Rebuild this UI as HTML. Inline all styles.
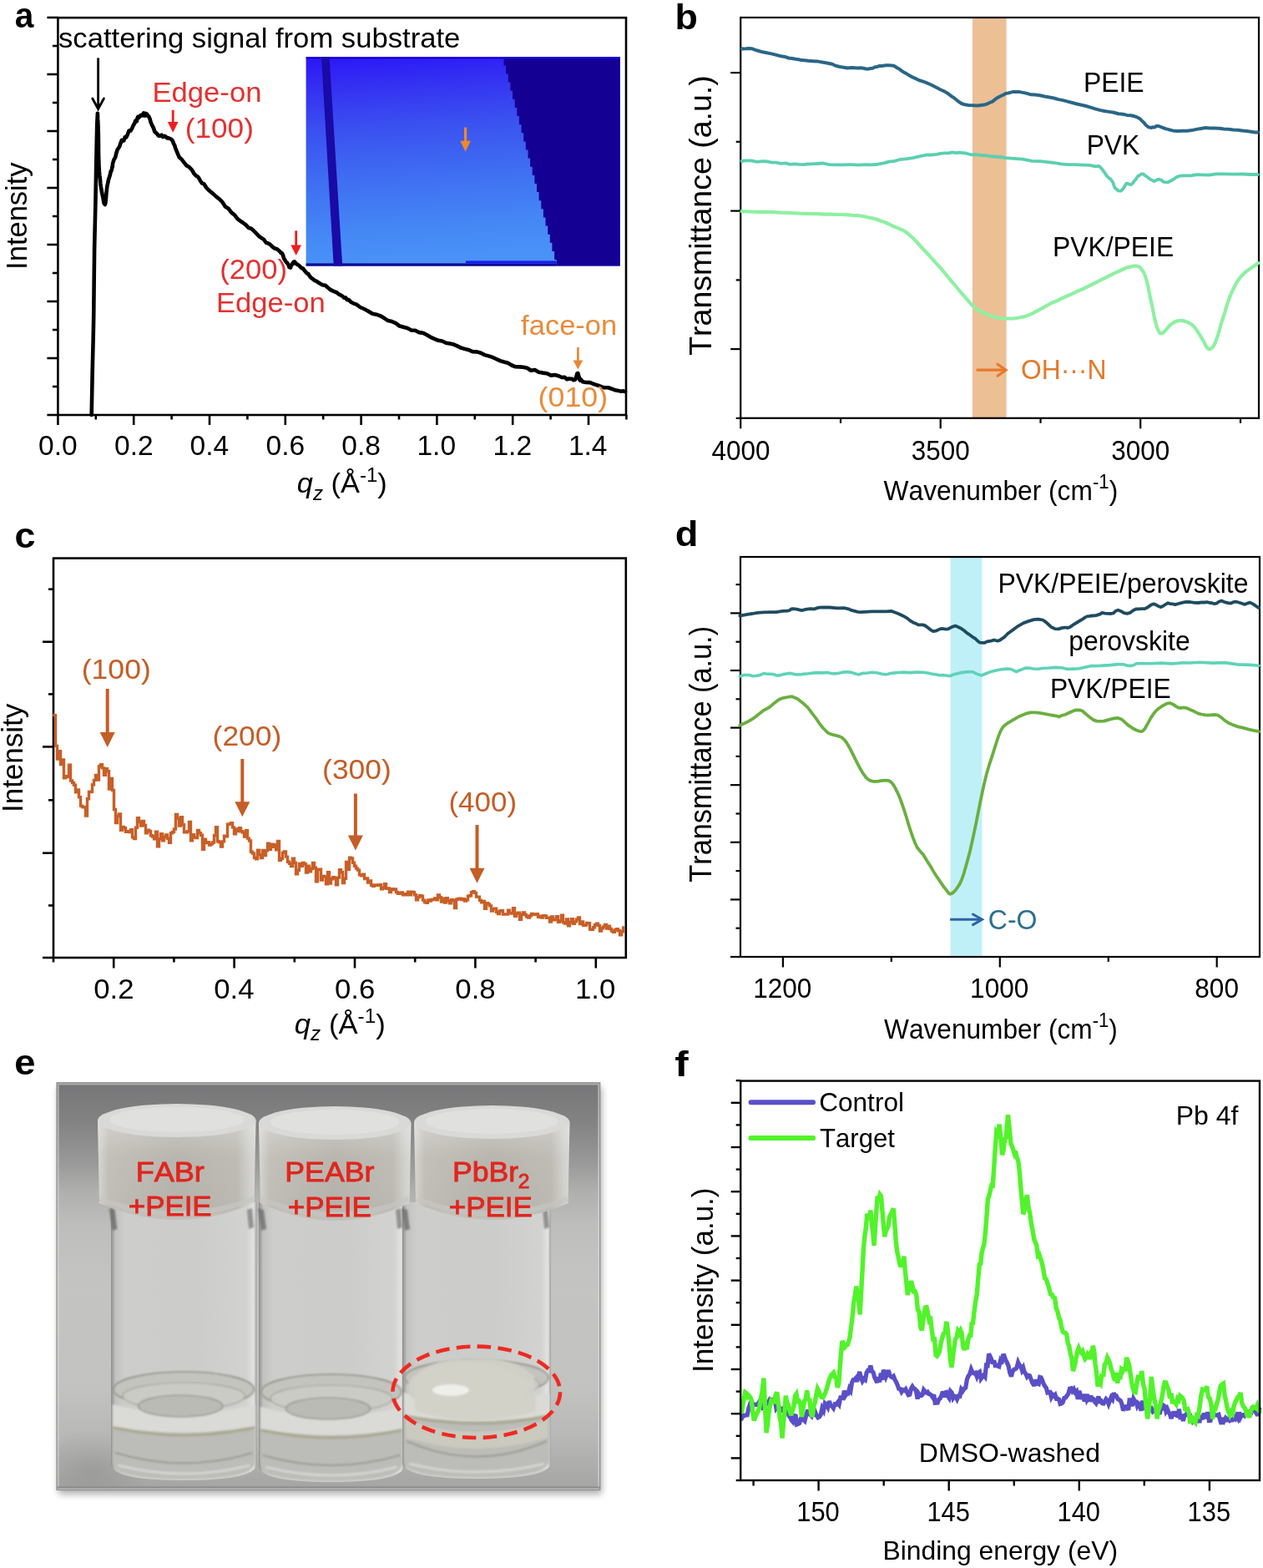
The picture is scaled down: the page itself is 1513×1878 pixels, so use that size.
<!DOCTYPE html>
<html><head><meta charset="utf-8"><style>
html,body{margin:0;padding:0;background:#fff;overflow:hidden;}
svg{display:block;font-family:"Liberation Sans", Arial, sans-serif;}
text{font-kerning:none;white-space:pre;}
</style></head><body>
<svg width="1513" height="1878" viewBox="0 0 1513 1878">
<rect width="1513" height="1878" fill="#fff"/>
<defs>
<linearGradient id="insg" x1="0" y1="0" x2="0.1" y2="1">
<stop offset="0" stop-color="#2a16f8"/><stop offset="0.15" stop-color="#3430f2"/><stop offset="0.35" stop-color="#3a50f0"/>
<stop offset="0.6" stop-color="#3f6ef2"/><stop offset="0.85" stop-color="#4588f5"/><stop offset="1" stop-color="#4a92f8"/>
</linearGradient>
</defs>
<rect x="366.6" y="68.3" width="376.2" height="250.3" fill="url(#insg)"/>
<path d="M742.8,68.3 L603.5,68.3 L603.5,78.4 L606.1,78.4 L606.1,88.5 L608.8,88.5 L608.8,98.6 L611.4,98.6 L611.4,108.8 L614,108.8 L614,118.9 L616.7,118.9 L616.7,129 L619.3,129 L619.3,139.1 L621.9,139.1 L621.9,149.2 L624.6,149.2 L624.6,159.3 L627.2,159.3 L627.2,169.4 L629.8,169.4 L629.8,179.5 L632.5,179.5 L632.5,189.6 L635.1,189.6 L635.1,199.8 L637.7,199.8 L637.7,209.9 L640.4,209.9 L640.4,220 L643,220 L643,230.1 L645.6,230.1 L645.6,240.2 L648.3,240.2 L648.3,250.3 L650.9,250.3 L650.9,260.4 L653.5,260.4 L653.5,270.6 L656.2,270.6 L656.2,280.7 L658.8,280.7 L658.8,290.8 L661.4,290.8 L661.4,300.9 L664.1,300.9 L664.1,311 L666.7,311 L666.7,318.6 L742.8,318.6 Z" fill="#150094"/>
<rect x="366.6" y="315.4" width="300.1" height="3.2" fill="#12088e"/>
<rect x="558" y="312.4" width="108.7" height="3" fill="#1a1af5"/>
<rect x="366.6" y="68.3" width="376.2" height="2.2" fill="#1400d8"/>
<path d="M385,68.3 L394.5,68.3 L410.2,318.6 L399.7,318.6 Z" fill="#1a0aa6"/>
<line x1="557.6" y1="152.6" x2="557.6" y2="169.7" stroke="#f08828" stroke-width="3.2" stroke-linecap="butt"/>
<path d="M551.3,168.7 L563.9,168.7 L557.6,181.7 Z" fill="#f08828"/>
<rect x="69.4" y="21.2" width="680.6" height="475.8" fill="none" stroke="#000" stroke-width="2.6"/>
<line x1="56.4" y1="497" x2="69.4" y2="497" stroke="#000" stroke-width="2.6" stroke-linecap="butt"/>
<line x1="56.4" y1="429" x2="69.4" y2="429" stroke="#000" stroke-width="2.6" stroke-linecap="butt"/>
<line x1="56.4" y1="361" x2="69.4" y2="361" stroke="#000" stroke-width="2.6" stroke-linecap="butt"/>
<line x1="56.4" y1="293" x2="69.4" y2="293" stroke="#000" stroke-width="2.6" stroke-linecap="butt"/>
<line x1="56.4" y1="225" x2="69.4" y2="225" stroke="#000" stroke-width="2.6" stroke-linecap="butt"/>
<line x1="56.4" y1="157" x2="69.4" y2="157" stroke="#000" stroke-width="2.6" stroke-linecap="butt"/>
<line x1="56.4" y1="89" x2="69.4" y2="89" stroke="#000" stroke-width="2.6" stroke-linecap="butt"/>
<line x1="56.4" y1="21" x2="69.4" y2="21" stroke="#000" stroke-width="2.6" stroke-linecap="butt"/>
<line x1="62.9" y1="463" x2="69.4" y2="463" stroke="#000" stroke-width="2.6" stroke-linecap="butt"/>
<line x1="62.9" y1="395" x2="69.4" y2="395" stroke="#000" stroke-width="2.6" stroke-linecap="butt"/>
<line x1="62.9" y1="327" x2="69.4" y2="327" stroke="#000" stroke-width="2.6" stroke-linecap="butt"/>
<line x1="62.9" y1="259" x2="69.4" y2="259" stroke="#000" stroke-width="2.6" stroke-linecap="butt"/>
<line x1="62.9" y1="191" x2="69.4" y2="191" stroke="#000" stroke-width="2.6" stroke-linecap="butt"/>
<line x1="62.9" y1="123" x2="69.4" y2="123" stroke="#000" stroke-width="2.6" stroke-linecap="butt"/>
<line x1="62.9" y1="55" x2="69.4" y2="55" stroke="#000" stroke-width="2.6" stroke-linecap="butt"/>
<line x1="69.4" y1="497" x2="69.4" y2="509" stroke="#000" stroke-width="2.6" stroke-linecap="butt"/>
<line x1="160.2" y1="497" x2="160.2" y2="509" stroke="#000" stroke-width="2.6" stroke-linecap="butt"/>
<line x1="251" y1="497" x2="251" y2="509" stroke="#000" stroke-width="2.6" stroke-linecap="butt"/>
<line x1="341.8" y1="497" x2="341.8" y2="509" stroke="#000" stroke-width="2.6" stroke-linecap="butt"/>
<line x1="432.6" y1="497" x2="432.6" y2="509" stroke="#000" stroke-width="2.6" stroke-linecap="butt"/>
<line x1="523.4" y1="497" x2="523.4" y2="509" stroke="#000" stroke-width="2.6" stroke-linecap="butt"/>
<line x1="614.2" y1="497" x2="614.2" y2="509" stroke="#000" stroke-width="2.6" stroke-linecap="butt"/>
<line x1="705" y1="497" x2="705" y2="509" stroke="#000" stroke-width="2.6" stroke-linecap="butt"/>
<line x1="114.8" y1="497" x2="114.8" y2="502.5" stroke="#000" stroke-width="2.6" stroke-linecap="butt"/>
<line x1="205.6" y1="497" x2="205.6" y2="502.5" stroke="#000" stroke-width="2.6" stroke-linecap="butt"/>
<line x1="296.4" y1="497" x2="296.4" y2="502.5" stroke="#000" stroke-width="2.6" stroke-linecap="butt"/>
<line x1="387.2" y1="497" x2="387.2" y2="502.5" stroke="#000" stroke-width="2.6" stroke-linecap="butt"/>
<line x1="478" y1="497" x2="478" y2="502.5" stroke="#000" stroke-width="2.6" stroke-linecap="butt"/>
<line x1="568.8" y1="497" x2="568.8" y2="502.5" stroke="#000" stroke-width="2.6" stroke-linecap="butt"/>
<line x1="659.6" y1="497" x2="659.6" y2="502.5" stroke="#000" stroke-width="2.6" stroke-linecap="butt"/>
<line x1="750.4" y1="497" x2="750.4" y2="502.5" stroke="#000" stroke-width="2.6" stroke-linecap="butt"/>
<text transform="translate(46.06,545.00) scale(0.9874,1)" font-size="34" fill="#000" font-weight="normal" font-style="normal">0.0</text>
<text transform="translate(137.05,545.00) scale(0.9874,1)" font-size="34" fill="#000" font-weight="normal" font-style="normal">0.2</text>
<text transform="translate(227.50,545.00) scale(0.9874,1)" font-size="34" fill="#000" font-weight="normal" font-style="normal">0.4</text>
<text transform="translate(318.55,545.00) scale(0.9874,1)" font-size="34" fill="#000" font-weight="normal" font-style="normal">0.6</text>
<text transform="translate(409.34,545.00) scale(0.9874,1)" font-size="34" fill="#000" font-weight="normal" font-style="normal">0.8</text>
<text transform="translate(499.44,545.00) scale(0.9874,1)" font-size="34" fill="#000" font-weight="normal" font-style="normal">1.0</text>
<text transform="translate(590.43,545.00) scale(0.9874,1)" font-size="34" fill="#000" font-weight="normal" font-style="normal">1.2</text>
<text transform="translate(680.88,545.00) scale(0.9874,1)" font-size="34" fill="#000" font-weight="normal" font-style="normal">1.4</text>
<text transform="translate(355.84,590.40) scale(1.0424,1)" font-size="33" fill="#000"><tspan font-size="33.00" font-weight="normal" font-style="italic" dy="0.00">q</tspan><tspan font-size="23.10" font-weight="normal" font-style="italic" dy="8.25">z</tspan><tspan font-size="33.00" font-weight="normal" font-style="normal" dy="-8.25"> (Å</tspan><tspan font-size="23.10" font-weight="normal" font-style="normal" dy="-13.20">-1</tspan><tspan font-size="33.00" font-weight="normal" font-style="normal" dy="13.20">)</tspan></text>
<text transform="translate(32.40,322.88) rotate(-90) scale(0.9998,1)" font-size="34.5" fill="#000" font-weight="normal">Intensity</text>
<text transform="translate(17.71,33.30) scale(0.9465,1)" font-size="43" fill="#000" font-weight="bold" font-style="normal" >a</text>
<text transform="translate(70.04,56.70) scale(1.0192,1)" font-size="34" fill="#000" font-weight="normal" font-style="normal" >scattering signal from substrate</text>
<line x1="117.6" y1="69.4" x2="117.6" y2="130" stroke="#000" stroke-width="2.8" stroke-linecap="butt"/>
<path d="M110.8,118 L117.6,130.5 L124.4,118" fill="none" stroke="#000" stroke-width="2.8" stroke-linejoin="miter" stroke-linecap="round" />
<path d="M109.7,497 L110.6,450 L111.7,404 L112.2,380 L113.1,298.3 L114.5,238.8 L115.1,203.1 L116.2,150 L116.9,135.7 L117,138.3 L117.1,142.4 L117.3,145.3 L117.5,149.9 L117.7,155 L117.8,159.3 L117.9,165.8 L118,172.6 L118,180 L118.1,185.5 L118.3,192.6 L118.5,198.2 L118.9,205.2 L119.3,210 L119.8,213.3 L120.3,219.8 L120.9,223.9 L121.5,227.2 L122.2,231.3 L122.9,234.6 L123.7,238.4 L124.4,242.9 L125.2,244.1 L125.8,245 L126.3,243.7 L126.7,240 L127.1,236.6 L127.4,231.7 L127.8,227.8 L128.4,222.9 L129.1,219.8 L130,215.2 L130.9,212.5 L131.8,209.8 L132.7,205.3 L133.4,204.7 L134,202.5 L134.4,199.7 L134.7,200 L135.1,195.4 L135.6,194 L136.3,191.8 L137.2,190 L138.3,188.1 L139.5,182.8 L140.7,179.2 L142,177.3 L143.3,175.1 L144.5,171.3 L145.8,168 L147.1,169 L148.4,168.2 L149.8,164.1 L151.2,164.5 L152.8,161.2 L154.5,156.5 L156.3,156.8 L158.1,153.9 L159.7,150.1 L161.1,148 L162.2,144.6 L163.1,144.3 L163.8,145.4 L164.5,141.7 L165.2,139.8 L166,140.9 L166.9,140.2 L167.9,138.6 L168.9,137.8 L170,138.5 L171,137.9 L172,135.4 L173,138.6 L173.9,135.8 L174.8,138.4 L175.8,136.3 L176.8,138 L178,139.1 L179.3,141.7 L180.7,146.7 L182.2,150.2 L183.8,153 L185.3,157.8 L186.9,158.9 L188.5,160.8 L190.1,162.7 L191.8,162.7 L193.5,161.7 L195.1,164 L196.8,162.9 L198.5,163.7 L200.2,165.5 L201.9,165.2 L203.5,166 L205.2,166.8 L206.7,168.5 L208,171.8 L209.1,173.8 L210.2,177.6 L211.4,180.4 L212.8,183.9 L214.7,188.2 L217.2,190.4 L220.1,194.1 L223.4,198.2 L226.6,200.1 L229.8,203.3 L232.5,208 L234.7,210.4 L236.5,211.3 L238.2,213.2 L239.9,216.5 L241.9,219.3 L244.4,220.3 L247.5,225.2 L250.9,228.5 L254.7,231.6 L258.6,235.1 L262.5,238.2 L266.2,241.8 L269.9,247.5 L273.6,249.7 L277.3,254.6 L280.9,257.3 L284.5,262.1 L288,264.8 L291.4,267 L294.6,269.4 L297.9,273 L301,273.8 L304.1,276.5 L307.1,279.6 L310.1,282.8 L313.1,284.9 L316,286.8 L318.8,290.8 L321.5,291.5 L324,293.2 L326.4,295.6 L328.8,297.4 L331.1,297.9 L333.2,299.4 L335.1,301.1 L336.7,303 L338,303.5 L339,305.7 L339.8,308.5 L340.5,310.3 L341.2,311.2 L342,312.7 L342.9,314 L343.8,314.6 L344.7,315.9 L345.6,317.2 L346.5,320.1 L347.3,320.1 L348.1,320.5 L348.7,317.5 L349.4,317.7 L350.1,316 L350.7,315.5 L351.5,314 L352.3,315.3 L353,313.4 L353.8,314.7 L354.7,315.6 L355.7,316.6 L356.8,317 L358.1,318 L359.6,319.4 L361.2,321.1 L362.9,321.4 L364.6,323.8 L366.3,325.9 L367.9,327.5 L369.4,328.2 L371,330.8 L372.7,332.8 L374.6,334 L376.9,335.9 L379.7,337.1 L382.8,339.3 L386.2,341.2 L389.7,341.8 L393,344.7 L396,347.1 L398.6,348.4 L401.1,349.5 L403.4,350.2 L405.6,352.3 L407.8,353.4 L410,354.5 L412.1,356.7 L414,356.4 L415.8,359.2 L417.8,359 L420.3,361.8 L423.3,363.3 L427.1,364.7 L431.5,368 L436.2,370 L441.2,372.7 L446.2,375.8 L451,376.7 L455.6,378.3 L460.3,381.1 L464.9,384.1 L469.5,385.1 L474.2,387.1 L478.8,390.6 L483.4,391.8 L488.1,393 L492.7,395.5 L497.3,395.8 L502,398.1 L506.6,398.7 L511.2,401 L515.8,403.8 L520.5,405.9 L525.1,407.8 L529.7,408.5 L534.3,410.7 L538.9,411.6 L543.6,412.6 L548.2,414.7 L552.8,416.8 L557.5,418.1 L562.1,419.3 L566.7,421.3 L571.4,421.4 L576,422.8 L580.6,425.1 L585.3,426.4 L589.9,427.9 L594.5,430 L599.1,432.1 L603.7,433.5 L608.4,434.8 L613,437.5 L617.6,439.3 L622.2,439.4 L626.9,439.8 L631.5,440.8 L636.1,443.8 L640.8,443.1 L645.4,445.7 L650.2,446.6 L655.2,447.2 L660.1,449.6 L664.9,449 L669.3,450.4 L673.1,452 L676.3,451.8 L679.2,454.3 L681.6,453.5 L683.7,453.8 L685.5,453.8 L687,455.2 L688.1,454.6 L688.8,454.7 L689.2,454.2 L689.5,454 L689.7,453.7 L690,452.4 L690.4,450.6 L690.7,450.2 L691.1,448.6 L691.4,447.3 L691.7,447.7 L692,448 L692.3,447 L692.6,447.8 L692.9,448.9 L693.2,450.6 L693.5,451.2 L694,452.3 L694.3,453.2 L694.2,453.1 L694.3,454.6 L694.7,455.5 L695.9,454.4 L698.1,457.3 L701.8,458 L706.7,458.1 L712.4,460.4 L718.3,462.3 L723.9,464.3 L728.7,464.3 L732.9,465.7 L737,467.3 L740.8,467.9 L744.1,468.8 L746.9,468.3 L749,469.1" fill="none" stroke="#000" stroke-width="4.6" stroke-linejoin="round" stroke-linecap="round" />
<text transform="translate(182.46,122.30) scale(1.0190,1)" font-size="34" fill="#e3312f" font-weight="normal" font-style="normal" >Edge-on</text>
<text transform="translate(221.82,164.60) scale(1.0339,1)" font-size="34" fill="#e3312f" font-weight="normal" font-style="normal" >(100)</text>
<text transform="translate(263.15,334.00) scale(1.0206,1)" font-size="34" fill="#e3312f" font-weight="normal" font-style="normal" >(200)</text>
<text transform="translate(258.96,374.20) scale(1.0174,1)" font-size="34" fill="#e3312f" font-weight="normal" font-style="normal" >Edge-on</text>
<line x1="207.2" y1="131.8" x2="207.2" y2="147.1" stroke="#f21c1c" stroke-width="2.8" stroke-linecap="butt"/>
<path d="M200.9,146.1 L213.5,146.1 L207.2,158.8 Z" fill="#f21c1c"/>
<line x1="354.7" y1="276.3" x2="354.7" y2="294.5" stroke="#f21c1c" stroke-width="2.8" stroke-linecap="butt"/>
<path d="M348.4,293.5 L361,293.5 L354.7,306 Z" fill="#f21c1c"/>
<text transform="translate(624.11,400.80) scale(1.0152,1)" font-size="34" fill="#ea8a3a" font-weight="normal" font-style="normal" >face-on</text>
<text transform="translate(644.58,486.80) scale(1.0525,1)" font-size="34" fill="#ea8a3a" font-weight="normal" font-style="normal" >(010)</text>
<line x1="692.4" y1="416" x2="692.4" y2="432.4" stroke="#eb8530" stroke-width="2.6" stroke-linecap="butt"/>
<path d="M686.6,431.4 L698.2,431.4 L692.4,442.4 Z" fill="#eb8530"/>
<rect x="1165" y="21.0" width="40.6" height="479.8" fill="#ecbf95"/>
<rect x="887.2" y="21" width="620.8" height="479.8" fill="none" stroke="#000" stroke-width="2.2"/>
<line x1="875.2" y1="418.1" x2="887.2" y2="418.1" stroke="#000" stroke-width="2.2" stroke-linecap="butt"/>
<line x1="875.2" y1="252.6" x2="887.2" y2="252.6" stroke="#000" stroke-width="2.2" stroke-linecap="butt"/>
<line x1="875.2" y1="87.1" x2="887.2" y2="87.1" stroke="#000" stroke-width="2.2" stroke-linecap="butt"/>
<line x1="881.7" y1="500.9" x2="887.2" y2="500.9" stroke="#000" stroke-width="2.2" stroke-linecap="butt"/>
<line x1="881.7" y1="335.4" x2="887.2" y2="335.4" stroke="#000" stroke-width="2.2" stroke-linecap="butt"/>
<line x1="881.7" y1="169.8" x2="887.2" y2="169.8" stroke="#000" stroke-width="2.2" stroke-linecap="butt"/>
<line x1="887.2" y1="500.8" x2="887.2" y2="513.3" stroke="#000" stroke-width="2.2" stroke-linecap="butt"/>
<line x1="1126.7" y1="500.8" x2="1126.7" y2="513.3" stroke="#000" stroke-width="2.2" stroke-linecap="butt"/>
<line x1="1366.2" y1="500.8" x2="1366.2" y2="513.3" stroke="#000" stroke-width="2.2" stroke-linecap="butt"/>
<line x1="1007" y1="500.8" x2="1007" y2="506.8" stroke="#000" stroke-width="2.2" stroke-linecap="butt"/>
<line x1="1246.5" y1="500.8" x2="1246.5" y2="506.8" stroke="#000" stroke-width="2.2" stroke-linecap="butt"/>
<line x1="1486" y1="500.8" x2="1486" y2="506.8" stroke="#000" stroke-width="2.2" stroke-linecap="butt"/>
<text transform="translate(852.48,550.70) scale(0.9248,1)" font-size="34" fill="#000" font-weight="normal" font-style="normal">4000</text>
<text transform="translate(1091.74,550.70) scale(0.9248,1)" font-size="34" fill="#000" font-weight="normal" font-style="normal">3500</text>
<text transform="translate(1331.24,550.70) scale(0.9248,1)" font-size="34" fill="#000" font-weight="normal" font-style="normal">3000</text>
<text transform="translate(1058.56,599.00) scale(0.9336,1)" font-size="34" fill="#000"><tspan font-size="34.00" font-weight="normal" font-style="normal" dy="0.00">Wavenumber (cm</tspan><tspan font-size="23.80" font-weight="normal" font-style="normal" dy="-13.60">-1</tspan><tspan font-size="34.00" font-weight="normal" font-style="normal" dy="13.60">)</tspan></text>
<text transform="translate(852.40,425.84) rotate(-90) scale(1.0004,1)" font-size="37.5" fill="#000" font-weight="normal">Transmittance (a.u.)</text>
<text transform="translate(808.54,34.50) scale(1.0430,1)" font-size="43" fill="#000" font-weight="bold" font-style="normal" >b</text>
<path d="M888.5,58.2 L890.6,58.4 L893.7,58.3 L897.1,58.1 L900.5,58.2 L903.5,59.3 L906.4,60.3 L909.7,61.2 L913.6,62.3 L918.5,63.3 L924.2,64.4 L930,65.9 L935.4,67.2 L940.1,67.9 L944.6,69.5 L948.8,70 L952.9,70.8 L956.7,71.2 L960.1,72.1 L963.7,72.2 L968.1,72.8 L973.6,73.2 L980,73.6 L986.4,74.7 L992.1,75.8 L996.8,76.8 L1001,78.8 L1005.1,79.7 L1009.6,80.6 L1015.1,81.4 L1021.1,81 L1026.8,81.5 L1031.4,81.3 L1034.4,81.7 L1036.4,82.2 L1038.1,82.7 L1040.1,82.6 L1042.7,82 L1045.4,81.7 L1048.2,80.3 L1051,79.9 L1053.8,78.9 L1056.6,78.9 L1059.3,78.5 L1061.9,78.2 L1064.3,78.2 L1066.4,78.2 L1068.6,78.6 L1070.7,78.8 L1072.8,80 L1074.8,81.4 L1076.9,82.3 L1079.4,84.4 L1082.3,86.2 L1085.4,87.9 L1088.8,90.1 L1092.5,92.2 L1096.4,93.9 L1100.7,96 L1105.1,97.3 L1109.9,99.1 L1115.3,101.5 L1121.2,104.6 L1126.9,107.5 L1131.7,109.6 L1135.1,111.7 L1137.7,113.6 L1140,115.5 L1142.6,117 L1145.6,119.5 L1148.6,121.8 L1151.9,124 L1155.7,125.3 L1160.3,126 L1165.6,126.3 L1170.9,126.6 L1175.3,125.9 L1178.7,125.6 L1181.4,124.8 L1183.8,123.8 L1186.2,122.7 L1188.5,121.9 L1190.6,120.3 L1192.7,118.4 L1195,117.1 L1197.4,115.7 L1199.9,114.5 L1202.6,113.3 L1205.3,111.8 L1208.1,111.4 L1210.9,110.6 L1213.9,109.9 L1217.4,110 L1221.3,110.1 L1225.6,110.9 L1230.2,111.9 L1235,113.3 L1240.2,113.5 L1245.7,114.2 L1251.4,115.5 L1257,116.5 L1262.5,117.5 L1268,119.1 L1273.5,120.1 L1279,121.6 L1284.5,123 L1290,124.5 L1295.5,125.7 L1301,127 L1306.5,128.6 L1312,130.4 L1317.5,131.9 L1323,133 L1328.6,133.9 L1334.3,134.7 L1339.8,136.2 L1345,136.8 L1350,137.9 L1354.8,138.2 L1359.2,139.3 L1362.7,140.7 L1365.1,141.9 L1366.7,143.4 L1367.9,144.6 L1369.3,145.9 L1371,147.7 L1372.6,149.7 L1374.2,151 L1375.9,152.3 L1377.6,152.6 L1379.3,153 L1380.9,152.2 L1382.5,152.4 L1383.8,152.2 L1384.9,151 L1386.2,150.9 L1388,151 L1390.3,151.9 L1393,153 L1396.2,154.1 L1400.1,155.2 L1404.9,156.4 L1410.5,156.9 L1416.4,156.8 L1422.1,156.7 L1427.6,156.1 L1433.1,154.9 L1438.6,154 L1444.1,153 L1449.6,153.5 L1455.1,153.6 L1460.6,153.7 L1466.1,154.4 L1471.7,154.8 L1477.3,155.4 L1482.8,155.8 L1488.1,156.4 L1493.4,156.9 L1498.8,157.7 L1503.5,158.4 L1506.8,158.6" fill="none" stroke="#2a6686" stroke-width="4.0" stroke-linejoin="round" stroke-linecap="round" />
<path d="M888.5,193 L893.1,192.3 L899.7,192.4 L907,193.9 L913.6,193.2 L919.3,193.5 L924.7,194.6 L930,194.7 L935.4,195.8 L940.9,195.4 L946.3,196.8 L951.7,196.4 L957.2,196.9 L962.4,197.2 L967.6,196.5 L972.9,196.4 L979,196 L985.9,195.5 L993.5,197.1 L1001.4,197.3 L1009.6,197.3 L1018.6,197.1 L1028.3,197.7 L1037.4,197.2 L1044.5,197.3 L1048.7,197 L1050.8,197.1 L1052.5,196.4 L1055.4,196 L1059.8,195.1 L1064.9,193.6 L1070.7,193.2 L1077.2,191.2 L1084.9,190.4 L1093.6,189.1 L1102.2,187.2 L1109.9,185.5 L1116.2,185.5 L1121.8,184.8 L1126.8,183.8 L1131.7,183.3 L1136.4,183.4 L1140.9,182.4 L1145.1,183.2 L1149.2,182.7 L1153.2,183.1 L1156.9,183.5 L1160.6,184.5 L1164.4,185.4 L1168,185 L1171.6,185.4 L1175.4,186 L1180,186.1 L1185.3,186.9 L1191.1,187.5 L1197.7,188 L1205.3,189.1 L1214.6,189.9 L1225.2,190.6 L1236,192.8 L1246,193.1 L1254.8,194.1 L1263,195 L1270.9,196.4 L1279,197.1 L1287.9,197.2 L1297.1,197.6 L1305.6,197.8 L1312,199.3 L1315.5,198.8 L1317,199.5 L1317.6,199.8 L1318.6,200.8 L1320.2,202.6 L1321.9,204.8 L1323.5,207 L1325.2,209.8 L1326.9,211.9 L1328.6,213.3 L1330.3,214.3 L1331.8,216.6 L1333,218 L1334,220.9 L1335,223.7 L1336.2,225.7 L1337.7,226.6 L1339.4,228.4 L1341.2,228.7 L1342.9,228.5 L1344.6,227 L1346.3,224.8 L1347.9,221.8 L1349.5,219.7 L1350.9,219.8 L1352.2,220.4 L1353.5,220.8 L1355,221.1 L1356.8,219.6 L1358.8,216.8 L1360.8,214.6 L1362.7,211.4 L1364.3,210.5 L1365.8,209.5 L1367.4,208.4 L1369.3,208.3 L1371.8,210.3 L1374.7,212.3 L1377.6,214.6 L1380.3,215.9 L1382.6,217.2 L1384.8,215.9 L1386.9,215 L1389.1,215 L1391.4,215.8 L1393.7,217.8 L1396.2,218.1 L1399,218.3 L1402.1,216.8 L1405.5,215 L1409.2,212.3 L1413.3,210.7 L1417.6,210.4 L1422,210.4 L1427.1,210.3 L1433.1,209.2 L1440.2,209.4 L1448.3,209.6 L1457,208.3 L1466.1,208.3 L1476.7,208.6 L1488.5,208.5 L1499.3,209 L1506.8,209" fill="none" stroke="#5ccfb0" stroke-width="3.8" stroke-linejoin="round" stroke-linecap="round" />
<path d="M888.5,253.2 L897,253.5 L909.2,253.9 L922.8,253.9 L935.4,254.7 L946.8,255 L958.2,255.6 L969.1,255.8 L979,256.2 L987.7,256.6 L995.5,256.7 L1002.7,257 L1009.6,257 L1016.1,257.3 L1022.2,258 L1027.9,258.2 L1033.6,259 L1039.4,260.2 L1045,261.4 L1050.5,262.7 L1055.4,264.7 L1059.7,266.1 L1063.4,267.7 L1067,269.3 L1070.7,271.3 L1074.7,272.7 L1078.8,274.6 L1082.9,276.4 L1086.9,279.1 L1090.8,282.5 L1094.5,286 L1098.4,290 L1102.5,294.7 L1107,299.5 L1111.7,304.5 L1116.5,309.7 L1121.3,315.1 L1126.1,320.2 L1130.8,325.9 L1135.5,331.5 L1140,337.1 L1144.1,341.7 L1148,346.5 L1151.9,351.1 L1155.7,355.4 L1159.5,359.9 L1163.3,364.2 L1167.2,368.2 L1171.3,371.2 L1175.9,373.9 L1180.8,375.9 L1185.7,377.6 L1190,379.3 L1193.3,380.2 L1195.8,380.7 L1198.6,381 L1202.5,381.5 L1207.7,381.5 L1213.9,381.5 L1220.6,380.5 L1227.6,379.1 L1235,376.4 L1242.8,372.1 L1250.8,367.9 L1258.8,363.3 L1266.6,360.2 L1274.4,356.2 L1282.3,352.9 L1290.1,349.1 L1298.1,345.7 L1306.1,341.6 L1313.9,337.8 L1321.3,334 L1328.3,330.6 L1335,327.1 L1341.1,324.5 L1346.3,322 L1350.4,320.3 L1353.6,319.7 L1356.3,318.9 L1358.8,318.6 L1361.1,318.5 L1363.1,319.1 L1365,319.7 L1366.7,321.6 L1368.4,323.6 L1369.9,325.8 L1371.4,329.1 L1372.9,333.8 L1374.5,339.5 L1376,346.9 L1377.6,354.7 L1379.2,361.8 L1380.8,369.3 L1382.3,377.4 L1383.8,384.3 L1385.4,389.9 L1386.9,394.4 L1388.3,397.3 L1389.8,399.2 L1391.7,399.5 L1394.1,397.9 L1396.8,394.9 L1399.7,391.5 L1402.6,388.6 L1405.6,386.5 L1408.6,385 L1411.8,384 L1415.1,384 L1418.6,384.4 L1422.2,385.7 L1425.9,387.7 L1429.2,389.8 L1432.2,393.4 L1435,397.4 L1437.7,401.8 L1440.1,405.9 L1442.3,409.4 L1444.2,413.7 L1446,416.3 L1447.9,418.2 L1449.8,418.2 L1451.8,416.8 L1453.7,414.4 L1455.8,410.4 L1458,404.4 L1460.4,397 L1462.7,388.2 L1465.1,380.6 L1467.4,373.6 L1469.6,365.9 L1471.9,359.3 L1474.5,352.3 L1477.2,346.6 L1480.1,340.6 L1483.3,335.5 L1487,330.7 L1492,325.7 L1497.9,321.6 L1503.5,317.7 L1507.3,315.1" fill="none" stroke="#8ef0a2" stroke-width="4.2" stroke-linejoin="round" stroke-linecap="round" />
<text transform="translate(1297.98,110.40) scale(0.9381,1)" font-size="34" fill="#000" font-weight="normal" font-style="normal" >PEIE</text>
<text transform="translate(1301.69,185.20) scale(0.9343,1)" font-size="34" fill="#000" font-weight="normal" font-style="normal" >PVK</text>
<text transform="translate(1260.99,307.30) scale(0.9376,1)" font-size="34" fill="#000" font-weight="normal" font-style="normal" >PVK/PEIE</text>
<text transform="translate(1222.89,454.10) scale(0.9369,1)" font-size="34" fill="#e3792a" font-weight="normal" font-style="normal" >OH···N</text>
<line x1="1169.7" y1="443.2" x2="1204.5" y2="443.2" stroke="#e8782a" stroke-width="3.2" stroke-linecap="butt"/>
<path d="M1195,436.2 L1205,443.2 L1195,450.2" fill="none" stroke="#e8782a" stroke-width="3.2" stroke-linejoin="miter" stroke-linecap="round" />
<rect x="64" y="668.6" width="685.8" height="478.4" fill="none" stroke="#000" stroke-width="2.6"/>
<line x1="51" y1="1147" x2="64" y2="1147" stroke="#000" stroke-width="2.6" stroke-linecap="butt"/>
<line x1="51" y1="1021.7" x2="64" y2="1021.7" stroke="#000" stroke-width="2.6" stroke-linecap="butt"/>
<line x1="51" y1="894.4" x2="64" y2="894.4" stroke="#000" stroke-width="2.6" stroke-linecap="butt"/>
<line x1="51" y1="768.7" x2="64" y2="768.7" stroke="#000" stroke-width="2.6" stroke-linecap="butt"/>
<line x1="58" y1="1084.5" x2="64" y2="1084.5" stroke="#000" stroke-width="2.6" stroke-linecap="butt"/>
<line x1="58" y1="958.3" x2="64" y2="958.3" stroke="#000" stroke-width="2.6" stroke-linecap="butt"/>
<line x1="58" y1="831.4" x2="64" y2="831.4" stroke="#000" stroke-width="2.6" stroke-linecap="butt"/>
<line x1="58" y1="705.7" x2="64" y2="705.7" stroke="#000" stroke-width="2.6" stroke-linecap="butt"/>
<line x1="136.2" y1="1147" x2="136.2" y2="1159.5" stroke="#000" stroke-width="2.6" stroke-linecap="butt"/>
<line x1="280.6" y1="1147" x2="280.6" y2="1159.5" stroke="#000" stroke-width="2.6" stroke-linecap="butt"/>
<line x1="425" y1="1147" x2="425" y2="1159.5" stroke="#000" stroke-width="2.6" stroke-linecap="butt"/>
<line x1="569.4" y1="1147" x2="569.4" y2="1159.5" stroke="#000" stroke-width="2.6" stroke-linecap="butt"/>
<line x1="713.8" y1="1147" x2="713.8" y2="1159.5" stroke="#000" stroke-width="2.6" stroke-linecap="butt"/>
<line x1="64" y1="1147" x2="64" y2="1152.5" stroke="#000" stroke-width="2.6" stroke-linecap="butt"/>
<line x1="208.4" y1="1147" x2="208.4" y2="1152.5" stroke="#000" stroke-width="2.6" stroke-linecap="butt"/>
<line x1="352.8" y1="1147" x2="352.8" y2="1152.5" stroke="#000" stroke-width="2.6" stroke-linecap="butt"/>
<line x1="497.2" y1="1147" x2="497.2" y2="1152.5" stroke="#000" stroke-width="2.6" stroke-linecap="butt"/>
<line x1="641.6" y1="1147" x2="641.6" y2="1152.5" stroke="#000" stroke-width="2.6" stroke-linecap="butt"/>
<text transform="translate(112.24,1196.10) scale(1.0220,1)" font-size="34" fill="#000" font-weight="normal" font-style="normal">0.2</text>
<text transform="translate(256.28,1196.10) scale(1.0220,1)" font-size="34" fill="#000" font-weight="normal" font-style="normal">0.4</text>
<text transform="translate(400.93,1196.10) scale(1.0220,1)" font-size="34" fill="#000" font-weight="normal" font-style="normal">0.6</text>
<text transform="translate(545.32,1196.10) scale(1.0220,1)" font-size="34" fill="#000" font-weight="normal" font-style="normal">0.8</text>
<text transform="translate(689.00,1196.10) scale(1.0220,1)" font-size="34" fill="#000" font-weight="normal" font-style="normal">1.0</text>
<text transform="translate(352.83,1237.80) scale(1.0514,1)" font-size="33" fill="#000"><tspan font-size="33.00" font-weight="normal" font-style="italic" dy="0.00">q</tspan><tspan font-size="23.10" font-weight="normal" font-style="italic" dy="8.25">z</tspan><tspan font-size="33.00" font-weight="normal" font-style="normal" dy="-8.25"> (Å</tspan><tspan font-size="23.10" font-weight="normal" font-style="normal" dy="-13.20">-1</tspan><tspan font-size="33.00" font-weight="normal" font-style="normal" dy="13.20">)</tspan></text>
<text transform="translate(27.30,973.03) rotate(-90) scale(0.9996,1)" font-size="35" fill="#000" font-weight="normal">Intensity</text>
<text transform="translate(17.55,656.40) scale(1.0441,1)" font-size="43" fill="#000" font-weight="bold" font-style="normal" >c</text>
<path d="M64.5,856.6 L66.5,856.6 L66.5,893.4 L68.5,893.4 L68.5,909.1 L70.5,909.1 L70.5,899.7 L72.5,899.7 L72.5,915.5 L74.5,915.5 L74.5,909.9 L76.5,909.9 L76.5,931.7 L78.5,931.7 L78.5,929.7 L80.5,929.7 L80.5,930.5 L82.5,930.5 L82.5,916.2 L84.5,916.2 L84.5,935 L86.5,935 L86.5,937.5 L88.5,937.5 L88.5,940.2 L90.5,940.2 L90.5,948.9 L92.5,948.9 L92.5,945.9 L94.5,945.9 L94.5,954.8 L96.5,954.8 L96.5,965.1 L98.5,965.1 L98.5,966.5 L100.5,966.5 L100.5,966.8 L102.5,966.8 L102.5,977 L104.5,977 L104.5,956.8 L106.5,956.8 L106.5,948.5 L108.5,948.5 L108.5,948.2 L110.5,948.2 L110.5,939.7 L112.5,939.7 L112.5,934.4 L114.5,934.4 L114.5,928.5 L116.5,928.5 L116.5,934.1 L118.5,934.1 L118.5,917.8 L120.5,917.8 L120.5,915.8 L122.5,915.8 L122.5,919.9 L124.5,919.9 L124.5,928.2 L126.5,928.2 L126.5,920.8 L128.5,920.8 L128.5,923.8 L130.5,923.8 L130.5,945.1 L132.5,945.1 L132.5,932.4 L134.5,932.4 L134.5,946.5 L136.5,946.5 L136.5,969.5 L138.5,969.5 L138.5,985.6 L140.5,985.6 L140.5,977.5 L142.5,977.5 L142.5,974.9 L144.5,974.9 L144.5,994.3 L146.5,994.3 L146.5,990.5 L148.5,990.5 L148.5,991.7 L150.5,991.7 L150.5,996.4 L152.5,996.4 L152.5,995.7 L154.5,995.7 L154.5,996.6 L156.5,996.6 L156.5,993.6 L158.5,993.6 L158.5,1002.9 L160.5,1002.9 L160.5,1004.6 L162.5,1004.6 L162.5,991.2 L164.5,991.2 L164.5,979.8 L166.5,979.8 L166.5,984.3 L168.5,984.3 L168.5,989.1 L170.5,989.1 L170.5,983.5 L172.5,983.5 L172.5,988.4 L174.5,988.4 L174.5,997.9 L176.5,997.9 L176.5,994.2 L178.5,994.2 L178.5,995.5 L180.5,995.5 L180.5,1000.7 L182.5,1000.7 L182.5,1002 L184.5,1002 L184.5,1004.7 L186.5,1004.7 L186.5,996.3 L188.5,996.3 L188.5,1013.7 L190.5,1013.7 L190.5,1004.9 L192.5,1004.9 L192.5,998.6 L194.5,998.6 L194.5,1006.8 L196.5,1006.8 L196.5,1002.5 L198.5,1002.5 L198.5,1000 L200.5,1000 L200.5,1004.2 L202.5,1004.2 L202.5,1009.3 L204.5,1009.3 L204.5,997.8 L206.5,997.8 L206.5,996.5 L208.5,996.5 L208.5,993 L210.5,993 L210.5,975.4 L212.5,975.4 L212.5,980.2 L214.5,980.2 L214.5,989 L216.5,989 L216.5,978.8 L218.5,978.8 L218.5,987.7 L220.5,987.7 L220.5,996.7 L222.5,996.7 L222.5,996.7 L224.5,996.7 L224.5,995.6 L226.5,995.6 L226.5,984.4 L228.5,984.4 L228.5,1006.9 L230.5,1006.9 L230.5,999.8 L232.5,999.8 L232.5,1002.9 L234.5,1002.9 L234.5,1003.5 L236.5,1003.5 L236.5,994.4 L238.5,994.4 L238.5,997.6 L240.5,997.6 L240.5,1000.2 L242.5,1000.2 L242.5,1017.4 L244.5,1017.4 L244.5,1005.1 L246.5,1005.1 L246.5,1009.6 L248.5,1009.6 L248.5,1008.7 L250.5,1008.7 L250.5,1012.1 L252.5,1012.1 L252.5,1010.9 L254.5,1010.9 L254.5,1009 L256.5,1009 L256.5,1000.5 L258.5,1000.5 L258.5,990.8 L260.5,990.8 L260.5,1007.8 L262.5,1007.8 L262.5,1008.8 L264.5,1008.8 L264.5,1014.1 L266.5,1014.1 L266.5,1007.9 L268.5,1007.9 L268.5,1001.3 L270.5,1001.3 L270.5,1001.8 L272.5,1001.8 L272.5,987.3 L274.5,987.3 L274.5,986.9 L276.5,986.9 L276.5,985.8 L278.5,985.8 L278.5,990.9 L280.5,990.9 L280.5,998.9 L282.5,998.9 L282.5,992.9 L284.5,992.9 L284.5,995.5 L286.5,995.5 L286.5,991.6 L288.5,991.6 L288.5,995.7 L290.5,995.7 L290.5,997.1 L292.5,997.1 L292.5,1002.1 L294.5,1002.1 L294.5,994.7 L296.5,994.7 L296.5,1004.1 L298.5,1004.1 L298.5,1007 L300.5,1007 L300.5,1020.3 L302.5,1020.3 L302.5,1022.1 L304.5,1022.1 L304.5,1027.2 L306.5,1027.2 L306.5,1028.7 L308.5,1028.7 L308.5,1018.1 L310.5,1018.1 L310.5,1023.6 L312.5,1023.6 L312.5,1027.6 L314.5,1027.6 L314.5,1018.4 L316.5,1018.4 L316.5,1024.6 L318.5,1024.6 L318.5,1018.9 L320.5,1018.9 L320.5,1010.2 L322.5,1010.2 L322.5,1017.3 L324.5,1017.3 L324.5,1011.1 L326.5,1011.1 L326.5,1014.2 L328.5,1014.2 L328.5,1011.8 L330.5,1011.8 L330.5,1017.7 L332.5,1017.7 L332.5,1007.4 L334.5,1007.4 L334.5,1030.4 L336.5,1030.4 L336.5,1028.3 L338.5,1028.3 L338.5,1021.3 L340.5,1021.3 L340.5,1020 L342.5,1020 L342.5,1026.1 L344.5,1026.1 L344.5,1032.2 L346.5,1032.2 L346.5,1034.3 L348.5,1034.3 L348.5,1037.5 L350.5,1037.5 L350.5,1028.2 L352.5,1028.2 L352.5,1033.4 L354.5,1033.4 L354.5,1046.8 L356.5,1046.8 L356.5,1042.2 L358.5,1042.2 L358.5,1034.4 L360.5,1034.4 L360.5,1037.2 L362.5,1037.2 L362.5,1033.5 L364.5,1033.5 L364.5,1034.9 L366.5,1034.9 L366.5,1045.1 L368.5,1045.1 L368.5,1037.3 L370.5,1037.3 L370.5,1043.8 L372.5,1043.8 L372.5,1040.5 L374.5,1040.5 L374.5,1033.5 L376.5,1033.5 L376.5,1039.3 L378.5,1039.3 L378.5,1055.7 L380.5,1055.7 L380.5,1041.5 L382.5,1041.5 L382.5,1041.2 L384.5,1041.2 L384.5,1054 L386.5,1054 L386.5,1049.4 L388.5,1049.4 L388.5,1050.1 L390.5,1050.1 L390.5,1058.9 L392.5,1058.9 L392.5,1044.7 L394.5,1044.7 L394.5,1058 L396.5,1058 L396.5,1052.7 L398.5,1052.7 L398.5,1050.7 L400.5,1050.7 L400.5,1051.7 L402.5,1051.7 L402.5,1059.7 L404.5,1059.7 L404.5,1051.1 L406.5,1051.1 L406.5,1041.7 L408.5,1041.7 L408.5,1044.7 L410.5,1044.7 L410.5,1057.5 L412.5,1057.5 L412.5,1052.2 L414.5,1052.2 L414.5,1032.4 L416.5,1032.4 L416.5,1041.4 L418.5,1041.4 L418.5,1027.3 L420.5,1027.3 L420.5,1028 L422.5,1028 L422.5,1033.2 L424.5,1033.2 L424.5,1037.2 L426.5,1037.2 L426.5,1040.1 L428.5,1040.1 L428.5,1042.1 L430.5,1042.1 L430.5,1047.9 L432.5,1047.9 L432.5,1048.7 L434.5,1048.7 L434.5,1047.1 L436.5,1047.1 L436.5,1052.5 L438.5,1052.5 L438.5,1052 L440.5,1052 L440.5,1057 L442.5,1057 L442.5,1055 L444.5,1055 L444.5,1060 L446.5,1060 L446.5,1061.2 L448.5,1061.2 L448.5,1060 L450.5,1060 L450.5,1059.9 L452.5,1059.9 L452.5,1060.3 L454.5,1060.3 L454.5,1059.6 L456.5,1059.6 L456.5,1064.9 L458.5,1064.9 L458.5,1063.3 L460.5,1063.3 L460.5,1058.8 L462.5,1058.8 L462.5,1064.2 L464.5,1064.2 L464.5,1064 L466.5,1064 L466.5,1068.6 L468.5,1068.6 L468.5,1064.6 L470.5,1064.6 L470.5,1065.5 L472.5,1065.5 L472.5,1065 L474.5,1065 L474.5,1068.5 L476.5,1068.5 L476.5,1070.4 L478.5,1070.4 L478.5,1069.8 L480.5,1069.8 L480.5,1068.9 L482.5,1068.9 L482.5,1071.8 L484.5,1071.8 L484.5,1070.8 L486.5,1070.8 L486.5,1071.7 L488.5,1071.7 L488.5,1068.3 L490.5,1068.3 L490.5,1071.8 L492.5,1071.8 L492.5,1068.1 L494.5,1068.1 L494.5,1068.6 L496.5,1068.6 L496.5,1071.7 L498.5,1071.7 L498.5,1077.7 L500.5,1077.7 L500.5,1074.5 L502.5,1074.5 L502.5,1072.6 L504.5,1072.6 L504.5,1073.3 L506.5,1073.3 L506.5,1078.1 L508.5,1078.1 L508.5,1080.5 L510.5,1080.5 L510.5,1081.2 L512.5,1081.2 L512.5,1077.9 L514.5,1077.9 L514.5,1079.1 L516.5,1079.1 L516.5,1077.5 L518.5,1077.5 L518.5,1077.6 L520.5,1077.6 L520.5,1075.9 L522.5,1075.9 L522.5,1077.7 L524.5,1077.7 L524.5,1071.9 L526.5,1071.9 L526.5,1074.8 L528.5,1074.8 L528.5,1080.1 L530.5,1080.1 L530.5,1076.3 L532.5,1076.3 L532.5,1081.1 L534.5,1081.1 L534.5,1075.8 L536.5,1075.8 L536.5,1079 L538.5,1079 L538.5,1081.7 L540.5,1081.7 L540.5,1077.6 L542.5,1077.6 L542.5,1078.5 L544.5,1078.5 L544.5,1087.6 L546.5,1087.6 L546.5,1077.3 L548.5,1077.3 L548.5,1076.5 L550.5,1076.5 L550.5,1076.3 L552.5,1076.3 L552.5,1077.5 L554.5,1077.5 L554.5,1076.6 L556.5,1076.6 L556.5,1079 L558.5,1079 L558.5,1077.7 L560.5,1077.7 L560.5,1073.3 L562.5,1073.3 L562.5,1072.8 L564.5,1072.8 L564.5,1068.8 L566.5,1068.8 L566.5,1067.8 L568.5,1067.8 L568.5,1069.4 L570.5,1069.4 L570.5,1074.1 L572.5,1074.1 L572.5,1074.3 L574.5,1074.3 L574.5,1078.4 L576.5,1078.4 L576.5,1080.8 L578.5,1080.8 L578.5,1079.4 L580.5,1079.4 L580.5,1088.3 L582.5,1088.3 L582.5,1081.8 L584.5,1081.8 L584.5,1082.9 L586.5,1082.9 L586.5,1084.9 L588.5,1084.9 L588.5,1091.1 L590.5,1091.1 L590.5,1088.6 L592.5,1088.6 L592.5,1088.2 L594.5,1088.2 L594.5,1092.3 L596.5,1092.3 L596.5,1094.6 L598.5,1094.6 L598.5,1091 L600.5,1091 L600.5,1090.8 L602.5,1090.8 L602.5,1095.1 L604.5,1095.1 L604.5,1094.9 L606.5,1094.9 L606.5,1095.1 L608.5,1095.1 L608.5,1090.1 L610.5,1090.1 L610.5,1093.6 L612.5,1093.6 L612.5,1094.1 L614.5,1094.1 L614.5,1087.8 L616.5,1087.8 L616.5,1097.3 L618.5,1097.3 L618.5,1094.2 L620.5,1094.2 L620.5,1093.1 L622.5,1093.1 L622.5,1101.4 L624.5,1101.4 L624.5,1095.3 L626.5,1095.3 L626.5,1093 L628.5,1093 L628.5,1095.5 L630.5,1095.5 L630.5,1097.8 L632.5,1097.8 L632.5,1099 L634.5,1099 L634.5,1096.7 L636.5,1096.7 L636.5,1094.5 L638.5,1094.5 L638.5,1095.3 L640.5,1095.3 L640.5,1095.3 L642.5,1095.3 L642.5,1094.8 L644.5,1094.8 L644.5,1098.3 L646.5,1098.3 L646.5,1097.2 L648.5,1097.2 L648.5,1099.1 L650.5,1099.1 L650.5,1096.7 L652.5,1096.7 L652.5,1096.9 L654.5,1096.9 L654.5,1099.3 L656.5,1099.3 L656.5,1099.1 L658.5,1099.1 L658.5,1104 L660.5,1104 L660.5,1098 L662.5,1098 L662.5,1101.7 L664.5,1101.7 L664.5,1101.2 L666.5,1101.2 L666.5,1097.6 L668.5,1097.6 L668.5,1104.2 L670.5,1104.2 L670.5,1102.8 L672.5,1102.8 L672.5,1096.1 L674.5,1096.1 L674.5,1104.7 L676.5,1104.7 L676.5,1106 L678.5,1106 L678.5,1101 L680.5,1101 L680.5,1108.9 L682.5,1108.9 L682.5,1104.5 L684.5,1104.5 L684.5,1100.8 L686.5,1100.8 L686.5,1106.4 L688.5,1106.4 L688.5,1103.9 L690.5,1103.9 L690.5,1101.2 L692.5,1101.2 L692.5,1099 L694.5,1099 L694.5,1106.6 L696.5,1106.6 L696.5,1103.9 L698.5,1103.9 L698.5,1108.4 L700.5,1108.4 L700.5,1108 L702.5,1108 L702.5,1105.5 L704.5,1105.5 L704.5,1105.8 L706.5,1105.8 L706.5,1113.1 L708.5,1113.1 L708.5,1113.2 L710.5,1113.2 L710.5,1110.7 L712.5,1110.7 L712.5,1107.7 L714.5,1107.7 L714.5,1106.2 L716.5,1106.2 L716.5,1108.4 L718.5,1108.4 L718.5,1115.1 L720.5,1115.1 L720.5,1111.8 L722.5,1111.8 L722.5,1109.9 L724.5,1109.9 L724.5,1107.5 L726.5,1107.5 L726.5,1112.1 L728.5,1112.1 L728.5,1109.3 L730.5,1109.3 L730.5,1112.5 L732.5,1112.5 L732.5,1115.1 L734.5,1115.1 L734.5,1116.4 L736.5,1116.4 L736.5,1113.8 L738.5,1113.8 L738.5,1112.7 L740.5,1112.7 L740.5,1114.7 L742.5,1114.7 L742.5,1119.8 L744.5,1119.8 L744.5,1115.8 L746.5,1115.8 L746.5,1110.7" fill="none" stroke="#c85f27" stroke-width="3.4" stroke-linejoin="miter" stroke-linecap="round" stroke-miterlimit="4"/>
<text transform="translate(97.69,813.40) scale(1.0472,1)" font-size="34" fill="#c55d26" font-weight="normal" font-style="normal" >(100)</text>
<line x1="128.7" y1="825" x2="128.7" y2="878" stroke="#c55d26" stroke-width="4.0" stroke-linecap="butt"/>
<path d="M119.7,877 L137.7,877 L128.7,895 Z" fill="#c55d26"/>
<text transform="translate(254.60,893.10) scale(1.0418,1)" font-size="34" fill="#c55d26" font-weight="normal" font-style="normal" >(200)</text>
<line x1="290.3" y1="909" x2="290.3" y2="961.2" stroke="#c55d26" stroke-width="4.0" stroke-linecap="butt"/>
<path d="M281.3,960.2 L299.3,960.2 L290.3,978.2 Z" fill="#c55d26"/>
<text transform="translate(386.10,933.00) scale(1.0418,1)" font-size="34" fill="#c55d26" font-weight="normal" font-style="normal" >(300)</text>
<line x1="425.9" y1="950.5" x2="425.9" y2="1001.6" stroke="#c55d26" stroke-width="4.0" stroke-linecap="butt"/>
<path d="M416.9,1000.6 L434.9,1000.6 L425.9,1018.6 Z" fill="#c55d26"/>
<text transform="translate(537.43,971.70) scale(1.0285,1)" font-size="34" fill="#c55d26" font-weight="normal" font-style="normal" >(400)</text>
<line x1="571.5" y1="988" x2="571.5" y2="1040.7" stroke="#c55d26" stroke-width="4.0" stroke-linecap="butt"/>
<path d="M562.5,1039.7 L580.5,1039.7 L571.5,1057.7 Z" fill="#c55d26"/>
<rect x="1138.5" y="667.0" width="38" height="479.0" fill="#bff0f8"/>
<rect x="887" y="667" width="622" height="479" fill="none" stroke="#000" stroke-width="2.2"/>
<line x1="875" y1="1146" x2="887" y2="1146" stroke="#000" stroke-width="2.2" stroke-linecap="butt"/>
<line x1="875" y1="1077.4" x2="887" y2="1077.4" stroke="#000" stroke-width="2.2" stroke-linecap="butt"/>
<line x1="875" y1="1008.8" x2="887" y2="1008.8" stroke="#000" stroke-width="2.2" stroke-linecap="butt"/>
<line x1="875" y1="940.2" x2="887" y2="940.2" stroke="#000" stroke-width="2.2" stroke-linecap="butt"/>
<line x1="875" y1="871.6" x2="887" y2="871.6" stroke="#000" stroke-width="2.2" stroke-linecap="butt"/>
<line x1="875" y1="803" x2="887" y2="803" stroke="#000" stroke-width="2.2" stroke-linecap="butt"/>
<line x1="875" y1="734.4" x2="887" y2="734.4" stroke="#000" stroke-width="2.2" stroke-linecap="butt"/>
<line x1="881.5" y1="1111.7" x2="887" y2="1111.7" stroke="#000" stroke-width="2.2" stroke-linecap="butt"/>
<line x1="881.5" y1="1043.1" x2="887" y2="1043.1" stroke="#000" stroke-width="2.2" stroke-linecap="butt"/>
<line x1="881.5" y1="974.5" x2="887" y2="974.5" stroke="#000" stroke-width="2.2" stroke-linecap="butt"/>
<line x1="881.5" y1="905.9" x2="887" y2="905.9" stroke="#000" stroke-width="2.2" stroke-linecap="butt"/>
<line x1="881.5" y1="837.3" x2="887" y2="837.3" stroke="#000" stroke-width="2.2" stroke-linecap="butt"/>
<line x1="881.5" y1="768.7" x2="887" y2="768.7" stroke="#000" stroke-width="2.2" stroke-linecap="butt"/>
<line x1="881.5" y1="700.1" x2="887" y2="700.1" stroke="#000" stroke-width="2.2" stroke-linecap="butt"/>
<line x1="937.9" y1="1146" x2="937.9" y2="1158.5" stroke="#000" stroke-width="2.2" stroke-linecap="butt"/>
<line x1="1197.8" y1="1146" x2="1197.8" y2="1158.5" stroke="#000" stroke-width="2.2" stroke-linecap="butt"/>
<line x1="1457.7" y1="1146" x2="1457.7" y2="1158.5" stroke="#000" stroke-width="2.2" stroke-linecap="butt"/>
<line x1="1067.8" y1="1146" x2="1067.8" y2="1152" stroke="#000" stroke-width="2.2" stroke-linecap="butt"/>
<line x1="1327.8" y1="1146" x2="1327.8" y2="1152" stroke="#000" stroke-width="2.2" stroke-linecap="butt"/>
<text transform="translate(902.19,1195.20) scale(0.9286,1)" font-size="34" fill="#000" font-weight="normal" font-style="normal">1200</text>
<text transform="translate(1162.10,1195.20) scale(0.9286,1)" font-size="34" fill="#000" font-weight="normal" font-style="normal">1000</text>
<text transform="translate(1431.29,1195.20) scale(0.9286,1)" font-size="34" fill="#000" font-weight="normal" font-style="normal">800</text>
<text transform="translate(1059.06,1244.00) scale(0.9306,1)" font-size="34" fill="#000"><tspan font-size="34.00" font-weight="normal" font-style="normal" dy="0.00">Wavenumber (cm</tspan><tspan font-size="23.80" font-weight="normal" font-style="normal" dy="-13.60">-1</tspan><tspan font-size="34.00" font-weight="normal" font-style="normal" dy="13.60">)</tspan></text>
<text transform="translate(852.40,1056.67) rotate(-90) scale(0.9144,1)" font-size="37.5" fill="#000" font-weight="normal">Transmittance (a.u.)</text>
<text transform="translate(808.84,654.00) scale(1.0522,1)" font-size="43" fill="#000" font-weight="bold" font-style="normal" >d</text>
<path d="M886.3,737.7 L889.9,736.9 L895.2,735.8 L901.2,735 L907.8,733.8 L915,733.4 L922.3,733.1 L929.9,733.1 L937.5,731.8 L943.5,731.7 L946.5,730.8 L947.9,729.3 L949.8,729.1 L952.9,729.4 L956.4,730.1 L960.4,731.1 L965.2,729.9 L970.4,729.2 L975.2,729.5 L978.5,728.4 L981.3,727.6 L985.8,727.4 L993.6,727.5 L1003.1,728.4 L1011.1,728.2 L1016.3,729.3 L1020,730.9 L1023.8,731.9 L1027.6,732.9 L1031.3,733.1 L1036.5,732.8 L1044.4,732.3 L1053.7,732.4 L1061.9,732.4 L1067.6,731.9 L1072.2,733.5 L1076.7,735.2 L1081.9,737.7 L1087,740.7 L1091.5,744.2 L1094.8,746 L1097.4,746.9 L1100,748.3 L1102.8,748.4 L1105.5,748.4 L1108.4,749.4 L1111.5,751.6 L1114.7,754.3 L1117.9,756.1 L1121.1,755.7 L1124.4,754.1 L1127.5,752.9 L1130.4,753.1 L1133.1,753.6 L1135.9,753.3 L1138.6,751.9 L1141.4,750.5 L1144.4,749.6 L1147.8,751 L1151.4,752.7 L1155,755.3 L1158.6,758.4 L1162.2,760.7 L1165.5,763.2 L1168.5,765 L1171.2,767.7 L1174,769.7 L1176.8,769.8 L1179.6,769.8 L1182.4,768.4 L1185.3,768 L1188.2,767.4 L1190.9,766.5 L1193.1,767.2 L1195.1,767.7 L1197.5,766.9 L1200.1,765.1 L1203.1,763.2 L1207.1,759 L1212.9,754.7 L1219.7,749.8 L1226.3,746.1 L1232.5,743.9 L1238.4,742.2 L1243.4,741.7 L1246.7,742.1 L1249.1,742.5 L1251.9,744.3 L1255.6,747.5 L1259.7,751.3 L1263.7,753.1 L1267.8,753.3 L1271.9,752.2 L1275.4,751.7 L1277.6,751.7 L1279.2,752.1 L1281.8,751.1 L1286.4,747.8 L1291.9,744.5 L1296.7,741.7 L1300,739.4 L1302.7,738.1 L1305.3,737.9 L1308.2,737.5 L1311.1,737.4 L1313.8,736.9 L1315.9,736.1 L1317.8,735.6 L1320.2,733.9 L1323.5,734.7 L1327.3,734.9 L1330.9,735 L1333.8,734.3 L1336.5,731.8 L1339.4,730.7 L1342.8,732 L1346.5,734.1 L1350.1,734.8 L1353.7,733.9 L1357.2,731.2 L1360.8,729.5 L1364.4,729.3 L1367.9,729.2 L1371.5,729.1 L1375.1,727.2 L1378.7,724.6 L1382.1,723.3 L1385.1,724.6 L1387.9,726.2 L1390.7,727.1 L1393.5,725.8 L1396.4,723.8 L1399.2,722.2 L1401.9,723.2 L1404.6,723.4 L1407.8,724.1 L1411.7,723 L1416,721.8 L1420.6,720.8 L1425.6,721 L1430.8,721.9 L1435.5,722 L1439.5,721.4 L1443,721.5 L1446.2,721.2 L1449.2,722 L1451.9,722.2 L1454.7,723.2 L1457.6,722.6 L1460.4,720.5 L1463.3,719.6 L1466.1,720.8 L1469,721.6 L1471.8,722.4 L1474.6,722.5 L1477.4,721.2 L1480.4,720.7 L1483.9,721.5 L1487.7,722.8 L1491,723.9 L1493.3,723 L1495.1,722.4 L1497.4,721.6 L1501,723.4 L1505.2,726.3 L1508.1,728" fill="none" stroke="#1f4b60" stroke-width="3.8" stroke-linejoin="round" stroke-linecap="round" />
<path d="M886.3,810.1 L888.5,809.4 L891.7,808.4 L895,808.5 L898.2,808.5 L901.6,809.8 L905,809.5 L908.4,809.1 L911.9,808 L915,806.5 L917.4,807 L919.6,807.3 L922.3,807.2 L926.2,807.5 L930.8,809.1 L935,808.6 L938.3,807.6 L941.4,807.1 L945,806.4 L949.2,806.9 L954,808 L960,807.6 L968.2,806.8 L977.7,805.6 L985.8,805.9 L991.4,805.4 L995.6,806.5 L1000,806.9 L1005,806.3 L1010.1,805.1 L1015,804.8 L1019.3,805.2 L1023.4,806.5 L1028,807.9 L1033.4,806.4 L1039.3,806 L1045,805.3 L1050.3,805.7 L1055.4,806.9 L1060,807.8 L1063.4,807.5 L1066.3,806.5 L1070.3,806.1 L1076.1,805.5 L1082.9,805.1 L1090,805.6 L1097.7,805.1 L1105.8,805.2 L1112.7,806.3 L1117.5,807.4 L1121.2,807.8 L1125,808.7 L1129.3,808.6 L1133.7,809 L1138,809.7 L1141.9,808 L1145.8,806.9 L1150,805.9 L1155.1,805.1 L1160.6,804.6 L1165.5,804.7 L1169.4,806.9 L1172.7,808 L1176.1,808.9 L1179.3,807.5 L1182.4,806.3 L1186.7,804.6 L1193.1,803 L1200.7,801.6 L1207.1,801 L1211.4,801.5 L1214.6,803.3 L1217.8,804.5 L1221.2,802.8 L1224.5,801.7 L1228.4,800 L1232.8,800.1 L1237.8,801 L1243.4,801.2 L1250,800.3 L1257.4,800 L1264.7,799.4 L1271.8,799.8 L1279,801.4 L1286.1,801.1 L1292.8,800.8 L1299.5,799.3 L1307.4,797.6 L1317.9,797.4 L1329.6,796.6 L1339.4,795.6 L1345.7,795.8 L1350.2,797.1 L1354.4,797.4 L1358,796.7 L1361.3,794.8 L1367.2,794.5 L1378.1,794.7 L1391.6,794.1 L1403.5,794.9 L1410.9,794.4 L1416.7,793.8 L1424.8,794 L1437.5,793.3 L1452.6,794.1 L1467.5,793.6 L1482.7,795.9 L1497.7,796.4 L1508.1,797.2" fill="none" stroke="#5fd3b8" stroke-width="3.6" stroke-linejoin="round" stroke-linecap="round" />
<path d="M886.3,868.7 L890.3,866.9 L896,864.3 L901.2,861.2 L905,858.6 L908.4,855.8 L911.7,853.1 L915.2,850.5 L918.8,848.8 L922.3,846.6 L925.8,843.6 L929.4,840.8 L932.9,838 L936.5,836.4 L940.1,835.7 L943.5,835 L946.3,834.4 L948.9,834.4 L951.9,835.5 L955.9,837.4 L960.4,840.9 L964.6,844.5 L968.3,848.2 L971.7,852.8 L975.2,857.4 L978.8,862.2 L982.4,867.6 L985.8,871.7 L988.8,874.8 L991.7,877.7 L994.8,879.1 L998.5,880.2 L1002.4,881.2 L1005.9,882.1 L1008.6,883.4 L1011,885.6 L1013.3,888.3 L1015.7,892 L1018.1,896.2 L1020.7,901.4 L1023.7,907.3 L1027,914 L1030,919.7 L1032.5,924.1 L1034.9,927.7 L1037.4,931.2 L1040.1,933.6 L1043.1,935.2 L1046.6,936 L1051.4,935.8 L1056.8,934.8 L1061.4,934.6 L1064.4,934.9 L1066.6,936.2 L1068.8,938.2 L1071.3,941.6 L1073.7,946.3 L1076.2,951.4 L1078.7,957.5 L1081.1,964.3 L1083.6,971.7 L1086.1,979.8 L1088.5,987.9 L1091,995.5 L1093.5,1002.7 L1095.9,1008.9 L1098.4,1014.5 L1100.8,1017.6 L1103.2,1020.7 L1105.8,1023.3 L1108.8,1028.2 L1111.9,1033.2 L1115.1,1038.3 L1118.2,1043.6 L1121.2,1048.5 L1124.3,1053 L1127.6,1057.9 L1130.8,1062.6 L1133.6,1065.8 L1135.4,1068.3 L1136.7,1070.2 L1138.2,1070.8 L1140.2,1070.1 L1142.4,1068.5 L1144.7,1066.1 L1147.1,1062.7 L1149.6,1058.9 L1152.1,1053.5 L1154.6,1046.3 L1157,1037.8 L1159.5,1029 L1162,1019.5 L1164.4,1008.7 L1166.9,997.4 L1169.4,985.3 L1171.8,973 L1174.3,960.7 L1176.7,949 L1179.1,938.1 L1181.7,927.5 L1184.7,917.2 L1188,907.1 L1191,897.7 L1193.6,889.5 L1196,882.1 L1198.5,875.9 L1200.8,871.8 L1203.3,869 L1207.1,866.1 L1213.4,862.3 L1221.1,857.9 L1228.4,854.9 L1234.3,853.4 L1239.8,853.3 L1245.5,853.9 L1252.2,855.1 L1259.2,856.5 L1264.7,857.4 L1267.4,857.9 L1268.6,858.5 L1271.1,857.3 L1276.3,855.7 L1282.7,852.7 L1288.2,850.5 L1291.5,850.3 L1293.9,850.5 L1296.7,851.5 L1300.7,855.1 L1305.1,858.7 L1309.6,862.1 L1313.7,863.6 L1317.8,863.9 L1322.4,863.7 L1327.9,862.2 L1333.9,860.5 L1339.4,859.9 L1344,861.8 L1348.2,865.6 L1352.3,869.2 L1356.8,872.2 L1361.3,874.5 L1365.1,875.9 L1367.6,876.2 L1369.3,875.2 L1371.5,872.7 L1374.8,866.9 L1378.6,859.9 L1382.1,854.6 L1385,851.1 L1387.8,848.7 L1390.7,846.7 L1394.1,844.6 L1397.8,842.6 L1401.4,842 L1405,843.4 L1408.6,845.9 L1412,847.7 L1414.8,848 L1417.3,847.5 L1420.6,847.8 L1425.3,849.8 L1430.6,852.1 L1435.5,854.6 L1439.3,855.5 L1442.6,856.1 L1446.2,856.6 L1450.3,856.3 L1454.7,856 L1459,856.7 L1463.1,859.4 L1467.2,862.9 L1471.8,866 L1477.1,868.2 L1482.9,870.4 L1488.9,871.6 L1495.9,873.6 L1503,875.1 L1508.1,876.1" fill="none" stroke="#6aaf40" stroke-width="3.8" stroke-linejoin="round" stroke-linecap="round" />
<text transform="translate(1195.38,710.30) scale(0.9401,1)" font-size="34" fill="#000" font-weight="normal" font-style="normal" >PVK/PEIE/perovskite</text>
<text transform="translate(1280.14,778.60) scale(0.9401,1)" font-size="34" fill="#000" font-weight="normal" font-style="normal" >perovskite</text>
<text transform="translate(1257.89,836.20) scale(0.9349,1)" font-size="34" fill="#000" font-weight="normal" font-style="normal" >PVK/PEIE</text>
<text transform="translate(1183.78,1113.30) scale(0.9412,1)" font-size="34" fill="#2a7090" font-weight="normal" font-style="normal" >C-O</text>
<line x1="1138.2" y1="1101.3" x2="1175" y2="1101.3" stroke="#2e62a4" stroke-width="3.0" stroke-linecap="butt"/>
<path d="M1165.5,1095 L1176.5,1101.3 L1165.5,1107.6" fill="none" stroke="#2e62a4" stroke-width="3.0" stroke-linejoin="miter" stroke-linecap="round" />
<defs>
<linearGradient id="pbg" x1="0" y1="0" x2="0" y2="1">
<stop offset="0" stop-color="#767678"/><stop offset="0.1" stop-color="#838383"/><stop offset="0.2" stop-color="#9a9a9a"/>
<stop offset="0.27" stop-color="#b0b0ae"/><stop offset="0.35" stop-color="#bebebc"/><stop offset="0.5" stop-color="#c4c4c2"/>
<stop offset="0.75" stop-color="#c2c2c0"/><stop offset="0.87" stop-color="#b8b8b6"/><stop offset="0.95" stop-color="#acacaa"/><stop offset="1" stop-color="#a4a4a2"/>
</linearGradient>
<linearGradient id="capside" x1="0" y1="0" x2="1" y2="0">
<stop offset="0" stop-color="#d6d5d0"/><stop offset="0.07" stop-color="#c0bdb6"/><stop offset="0.5" stop-color="#b5b2ab"/>
<stop offset="0.88" stop-color="#bcb9b2"/><stop offset="0.96" stop-color="#cfcfcb"/><stop offset="1" stop-color="#d6d6d3"/>
</linearGradient>
<linearGradient id="capv" x1="0" y1="0" x2="0" y2="1">
<stop offset="0" stop-color="#fff" stop-opacity="0.3"/><stop offset="0.35" stop-color="#fff" stop-opacity="0.05"/>
<stop offset="0.85" stop-color="#fff" stop-opacity="0"/><stop offset="1" stop-color="#fff" stop-opacity="0.18"/>
</linearGradient>
<linearGradient id="glass" x1="0" y1="0" x2="1" y2="0">
<stop offset="0" stop-color="#8e8e8c"/><stop offset="0.03" stop-color="#c2c2c0"/><stop offset="0.1" stop-color="#cdcdcb"/>
<stop offset="0.6" stop-color="#cccccb"/><stop offset="0.93" stop-color="#d2d2d0"/><stop offset="0.98" stop-color="#e2e2e0"/><stop offset="1" stop-color="#a0a09e"/>
</linearGradient>
<filter id="shblur" x="-0.1" y="-0.1" width="1.2" height="1.2"><feGaussianBlur stdDeviation="4"/></filter>
<filter id="soft" x="-0.2" y="-0.2" width="1.4" height="1.4"><feGaussianBlur stdDeviation="1.2"/></filter>
</defs>
<rect x="70.0" y="1301.8" width="650.8" height="487.70000000000005" fill="#000" opacity="0.32" filter="url(#shblur)"/>
<rect x="68.0" y="1296.8" width="650.8" height="487.7" fill="url(#pbg)"/>
<defs><radialGradient id="tsh" cx="0.5" cy="0.5" r="0.5"><stop offset="0" stop-color="#000" stop-opacity="0.09"/><stop offset="1" stop-color="#000" stop-opacity="0"/></radialGradient></defs>
<clipPath id="pclip"><rect x="68.0" y="1296.8" width="650.8" height="487.7"/></clipPath>
<ellipse cx="110" cy="1760" rx="70" ry="50" fill="url(#tsh)" clip-path="url(#pclip)"/>
<path d="M133.0,1440.0 L307.5,1440.0 L307.5,1753.0 Q307.5,1773.0 220.2,1773.0 Q133.0,1773.0 133.0,1753.0 Z" fill="url(#glass)"/>
<g filter="url(#soft)"><path d="M135.0,1708.0 L305.5,1708.0 L305.5,1751.0 Q305.5,1771.0 220.2,1771.0 Q135.0,1771.0 135.0,1751.0 Z" fill="#bcbcb8"/><path d="M135.0,1682.0 Q220.2,1704.0 305.5,1682.0 L305.5,1708.0 Q220.2,1724.0 135.0,1708.0 Z" fill="#dadad6"/><ellipse cx="220.2" cy="1664.0" rx="84.2" ry="21" fill="#c4c4be" stroke="#8e8e84" stroke-width="1.6"/><ellipse cx="220.2" cy="1672.0" rx="73.2" ry="16" fill="#cbcbc6" stroke="#a2a298" stroke-width="1.2"/><ellipse cx="216.2" cy="1684.0" rx="50.6" ry="13" fill="#bbbbb5" stroke="#8e8e86" stroke-width="1.2"/><path d="M136.0,1710.0 Q220.2,1728.0 304.5,1710.0" fill="none" stroke="#a8a88e" stroke-width="3"/><path d="M138.0,1740.0 Q220.2,1765.0 302.5,1740.0" fill="none" stroke="#9c9c94" stroke-width="2"/><path d="M141.0,1755.0 Q220.2,1775.0 299.5,1755.0" fill="none" stroke="#d4d4d0" stroke-width="3"/></g>
<path d="M310.0,1440.0 L484.0,1440.0 L484.0,1755.0 Q484.0,1775.0 397.0,1775.0 Q310.0,1775.0 310.0,1755.0 Z" fill="url(#glass)"/>
<g filter="url(#soft)"><path d="M312.0,1711.0 L482.0,1711.0 L482.0,1753.0 Q482.0,1773.0 397.0,1773.0 Q312.0,1773.0 312.0,1753.0 Z" fill="#bcbcb8"/><path d="M312.0,1685.0 Q397.0,1707.0 482.0,1685.0 L482.0,1711.0 Q397.0,1727.0 312.0,1711.0 Z" fill="#dadad6"/><ellipse cx="397.0" cy="1667.0" rx="84.0" ry="21" fill="#c4c4be" stroke="#8e8e84" stroke-width="1.6"/><ellipse cx="397.0" cy="1675.0" rx="73.0" ry="16" fill="#cbcbc6" stroke="#a2a298" stroke-width="1.2"/><ellipse cx="393.0" cy="1687.0" rx="50.5" ry="13" fill="#bbbbb5" stroke="#8e8e86" stroke-width="1.2"/><path d="M313.0,1713.0 Q397.0,1731.0 481.0,1713.0" fill="none" stroke="#a8a88e" stroke-width="3"/><path d="M315.0,1743.0 Q397.0,1767.0 479.0,1743.0" fill="none" stroke="#9c9c94" stroke-width="2"/><path d="M318.0,1757.0 Q397.0,1777.0 476.0,1757.0" fill="none" stroke="#d4d4d0" stroke-width="3"/></g>
<path d="M482.0,1440.0 L660.0,1440.0 L660.0,1751.0 Q660.0,1771.0 571.0,1771.0 Q482.0,1771.0 482.0,1751.0 Z" fill="url(#glass)"/>
<g filter="url(#soft)"><path d="M484.0,1694.0 L658.0,1694.0 L658.0,1749.0 Q658.0,1769.0 571.0,1769.0 Q484.0,1769.0 484.0,1749.0 Z" fill="#bcbcb8"/><path d="M484.0,1668.0 Q571.0,1690.0 658.0,1668.0 L658.0,1694.0 Q571.0,1710.0 484.0,1694.0 Z" fill="#dadad6"/><ellipse cx="571.0" cy="1650.0" rx="86.0" ry="21" fill="#c4c4be" stroke="#8e8e84" stroke-width="1.6"/><ellipse cx="571.0" cy="1658.0" rx="75.0" ry="16" fill="#cbcbc6" stroke="#a2a298" stroke-width="1.2"/><ellipse cx="567.0" cy="1670.0" rx="51.6" ry="13" fill="#bbbbb5" stroke="#8e8e86" stroke-width="1.2"/><path d="M485.0,1696.0 Q571.0,1714.0 657.0,1696.0" fill="none" stroke="#a8a88e" stroke-width="3"/><path d="M487.0,1726.0 Q571.0,1763.0 655.0,1726.0" fill="none" stroke="#9c9c94" stroke-width="2"/><path d="M490.0,1753.0 Q571.0,1773.0 652.0,1753.0" fill="none" stroke="#d4d4d0" stroke-width="3"/></g>
<g filter="url(#soft)"><ellipse cx="560" cy="1662" rx="72" ry="30" fill="#cfcfc6"/><path d="M495,1650 Q520,1625 560,1628 Q610,1622 640,1648 L642,1690 Q570,1712 498,1690 Z" fill="#d2d2c8" opacity="0.9"/><ellipse cx="540" cy="1665" rx="22" ry="7" fill="#eeeeea"/><path d="M486,1700 Q570,1730 656,1700 L656,1722 Q570,1748 486,1722 Z" fill="#cdcdbf" opacity="0.8"/></g>
<g filter="url(#soft)" opacity="0.75"><path d="M130.5,1447 L137.5,1449 L140.5,1472 L134.5,1474 Z" fill="#6a6a68"/><path d="M296.0,1449 L302.0,1447 L304.0,1470 L298.0,1472 Z" fill="#7a7a78"/></g>
<g filter="url(#soft)" opacity="0.75"><path d="M309.0,1447 L316.0,1449 L319.0,1472 L313.0,1474 Z" fill="#6a6a68"/><path d="M474.0,1449 L480.0,1447 L482.0,1470 L476.0,1472 Z" fill="#7a7a78"/></g>
<g filter="url(#soft)" opacity="0.75"><path d="M481.0,1447 L488.0,1449 L491.0,1472 L485.0,1474 Z" fill="#6a6a68"/><path d="M650.0,1449 L656.0,1447 L658.0,1470 L652.0,1472 Z" fill="#7a7a78"/></g>
<path d="M117.0,1342.0 L306.5,1342.0 L304.5,1441.0 Q211.8,1481.0 119.0,1441.0 Z" fill="url(#capside)"/>
<path d="M117.0,1342.0 L306.5,1342.0 L304.5,1441.0 Q211.8,1481.0 119.0,1441.0 Z" fill="url(#capv)"/>
<ellipse cx="211.8" cy="1342.0" rx="94.8" ry="20" fill="#d9dad7"/>
<ellipse cx="211.8" cy="1341.0" rx="80.8" ry="15" fill="#e0e1df"/>
<path d="M120.0,1436.0 Q211.8,1471.0 303.5,1436.0" fill="none" stroke="#c6c6c2" stroke-width="6" opacity="0.7"/>
<path d="M310.0,1345.0 L492.5,1345.0 L490.5,1441.0 Q401.2,1483.0 312.0,1441.0 Z" fill="url(#capside)"/>
<path d="M310.0,1345.0 L492.5,1345.0 L490.5,1441.0 Q401.2,1483.0 312.0,1441.0 Z" fill="url(#capv)"/>
<ellipse cx="401.2" cy="1345.0" rx="91.2" ry="20" fill="#d9dad7"/>
<ellipse cx="401.2" cy="1344.0" rx="77.2" ry="15" fill="#e0e1df"/>
<path d="M313.0,1436.0 Q401.2,1473.0 489.5,1436.0" fill="none" stroke="#c6c6c2" stroke-width="6" opacity="0.7"/>
<path d="M496.0,1344.0 L682.5,1344.0 L680.5,1441.0 Q589.2,1481.0 498.0,1441.0 Z" fill="url(#capside)"/>
<path d="M496.0,1344.0 L682.5,1344.0 L680.5,1441.0 Q589.2,1481.0 498.0,1441.0 Z" fill="url(#capv)"/>
<ellipse cx="589.2" cy="1344.0" rx="93.2" ry="20" fill="#d9dad7"/>
<ellipse cx="589.2" cy="1343.0" rx="79.2" ry="15" fill="#e0e1df"/>
<path d="M499.0,1436.0 Q589.2,1471.0 679.5,1436.0" fill="none" stroke="#c6c6c2" stroke-width="6" opacity="0.7"/>
<rect x="69.5" y="1298.3" width="647.8" height="484.7" fill="none" stroke="#dcdcdc" stroke-width="2.2" opacity="0.55"/>
<rect x="68.0" y="1296.8" width="650.8" height="487.7" fill="none" stroke="#8e8e8e" stroke-width="1.2"/>
<line x1="68.0" y1="1781.5" x2="718.8" y2="1781.5" stroke="#8a8a8a" stroke-width="2.5" opacity="0.8"/>
<text transform="translate(162.64,1414.80) scale(1.0780,1)" font-size="33.5" fill="#e0261e" font-weight="normal" font-style="normal" stroke="#e0261e" stroke-width="0.9">FABr</text>
<text transform="translate(153.80,1456.40) scale(1.0406,1)" font-size="33.5" fill="#e0261e" font-weight="normal" font-style="normal" stroke="#e0261e" stroke-width="0.9">+PEIE</text>
<text transform="translate(341.27,1414.90) scale(1.0655,1)" font-size="33.5" fill="#e0261e" font-weight="normal" font-style="normal" stroke="#e0261e" stroke-width="0.9">PEABr</text>
<text transform="translate(344.69,1456.80) scale(1.0449,1)" font-size="33.5" fill="#e0261e" font-weight="normal" font-style="normal" stroke="#e0261e" stroke-width="0.9">+PEIE</text>
<text transform="translate(541.88,1414.90) scale(1.0636,1)" font-size="33.5" fill="#e0261e" font-weight="normal" font-style="normal" stroke="#e0261e" stroke-width="0.9">PbBr</text>
<text transform="translate(620.76,1422.50) scale(1.0689,1)" font-size="23" fill="#e0261e" font-weight="normal" font-style="normal" stroke="#e0261e" stroke-width="0.9">2</text>
<text transform="translate(537.69,1456.80) scale(1.0449,1)" font-size="33.5" fill="#e0261e" font-weight="normal" font-style="normal" stroke="#e0261e" stroke-width="0.9">+PEIE</text>
<ellipse cx="570.7" cy="1667.3" rx="100.3" ry="54.7" fill="none" stroke="#ee2a22" stroke-width="4.6" stroke-dasharray="16.5,8.4"/>
<text transform="translate(17.13,1287.00) scale(1.0547,1)" font-size="43" fill="#000" font-weight="bold" font-style="normal" >e</text>
<path d="M888.5,1699.2 L890.2,1695.1 L891.9,1695.6 L893.5,1694.9 L895.2,1694.8 L896.9,1686.5 L898.6,1681.6 L900.3,1682.7 L902,1681.2 L903.7,1682.2 L905.4,1682.3 L907.1,1682.7 L908.8,1680.1 L910.4,1685.7 L912.1,1681.3 L913.8,1686.5 L915.5,1686.1 L917.2,1679.5 L918.9,1681.1 L920.6,1679.4 L922.3,1675.9 L923.8,1676.8 L925.3,1676.5 L926.8,1677.2 L928.4,1677.3 L929.9,1686.9 L931.4,1685.1 L932.9,1684.4 L934.4,1691.2 L935.9,1687.4 L937.4,1688.2 L939,1686.2 L940.5,1688.2 L942,1685 L943.5,1690.7 L945.1,1695.7 L946.6,1697.6 L948.2,1701 L949.8,1702.8 L951.4,1696.8 L953,1694 L954.5,1706.1 L956.1,1705.5 L957.7,1704.5 L959.3,1698.8 L960.9,1697.1 L962.5,1700.7 L964,1702 L965.6,1695.8 L967.2,1690.5 L968.8,1690.7 L970.4,1694.2 L972,1695.8 L973.6,1689.4 L975.1,1696.3 L976.7,1691.7 L978.3,1695.6 L979.9,1697.9 L981.5,1697.1 L983.2,1694.4 L984.9,1686.5 L986.6,1689.5 L988.3,1680.8 L990,1682.3 L991.7,1685.4 L993.4,1678 L995,1683.3 L996.7,1684.2 L998.4,1686.5 L1000.1,1681.8 L1001.8,1682.1 L1003.5,1679.7 L1005.2,1682.1 L1006.9,1673.8 L1008.4,1673.8 L1009.9,1674.3 L1011.4,1665.7 L1013,1671.2 L1014.5,1669 L1016,1669.1 L1017.5,1663.2 L1019,1665.6 L1020.5,1656.2 L1022,1652.7 L1023.6,1652.3 L1025.1,1650.7 L1026.6,1655 L1028.1,1648.4 L1029.8,1643 L1031.5,1650.3 L1033.1,1654.2 L1034.8,1651.4 L1036.5,1652.7 L1038.1,1643.9 L1039.7,1641.4 L1041.3,1641.7 L1042.9,1635.7 L1044.5,1642.3 L1046.1,1643.7 L1047.6,1649.5 L1049.2,1652.7 L1050.7,1655.9 L1052.2,1649.2 L1053.7,1655.4 L1055.3,1644.7 L1056.8,1652.7 L1058.3,1640.9 L1059.8,1644.2 L1061.3,1649.1 L1062.8,1645.4 L1064.3,1641.1 L1065.9,1647 L1067.4,1649 L1068.9,1649.7 L1070.4,1648.4 L1072,1652.5 L1073.6,1655.3 L1075.1,1658.6 L1076.7,1663.2 L1078.3,1663.5 L1080,1667.1 L1081.6,1664.7 L1083.3,1665.4 L1084.9,1663.8 L1086.6,1667.7 L1088.2,1670.8 L1089.9,1670.2 L1091.5,1663.2 L1093,1660.6 L1094.5,1662.9 L1096,1663.5 L1097.6,1666.9 L1099.1,1675.5 L1100.6,1669.3 L1102.1,1671.7 L1103.6,1671.7 L1105.1,1670.4 L1106.6,1664.7 L1108.2,1666.7 L1109.7,1667.9 L1111.2,1667.2 L1112.7,1669.6 L1114.2,1670 L1115.7,1671.1 L1117.2,1673.4 L1118.7,1670.4 L1120.2,1680.3 L1121.7,1680.2 L1123.2,1680.1 L1124.7,1676 L1126.2,1674.9 L1127.7,1671.9 L1129.3,1666.7 L1130.8,1673.2 L1132.3,1667.9 L1133.8,1667.5 L1135.4,1672 L1137,1674.4 L1138.6,1666.3 L1140.2,1668 L1141.7,1674.4 L1143.3,1672 L1144.9,1672.7 L1146.5,1675.9 L1148.2,1672 L1149.9,1672.2 L1151.6,1663.9 L1153.3,1666 L1155,1663.2 L1156.7,1662.1 L1158.4,1652.1 L1160,1648.1 L1161.7,1646 L1163.4,1640 L1165.1,1643.9 L1166.8,1644.8 L1168.5,1644.1 L1170.2,1648.6 L1171.9,1644.2 L1173.5,1643.1 L1175.1,1651.4 L1176.8,1649 L1178.4,1647.1 L1180,1649 L1181.5,1635.2 L1183.1,1635.6 L1184.6,1621.4 L1186.1,1624.5 L1187.6,1627.8 L1189.2,1633.4 L1190.7,1629.3 L1192.2,1635.5 L1193.7,1635.2 L1195.2,1636.1 L1196.8,1636.7 L1198.3,1630.5 L1199.8,1633.5 L1201.4,1623.9 L1202.9,1623.7 L1204.6,1628.7 L1206.3,1631.9 L1208.1,1636.1 L1209.8,1644.3 L1211.4,1648.5 L1213.1,1642.6 L1214.7,1640.3 L1216.3,1639.8 L1217.9,1638.3 L1219.6,1631.7 L1221.2,1635.2 L1222.7,1636 L1224.3,1641.1 L1225.8,1638.2 L1227.3,1643.7 L1228.9,1645.4 L1230.4,1649 L1231.9,1647.3 L1233.5,1647.7 L1235,1651.6 L1236.5,1655.8 L1238.1,1658.3 L1239.6,1658.1 L1241.1,1652.3 L1242.6,1657.1 L1244.2,1657.7 L1245.7,1649.5 L1247.2,1649.9 L1248.7,1653.5 L1250.2,1657.6 L1251.8,1660.4 L1253.3,1662.2 L1254.8,1667.9 L1256.4,1667.3 L1257.9,1667.3 L1259.4,1673.3 L1260.9,1670.3 L1262.5,1671.9 L1264,1670.5 L1265.5,1675.3 L1267,1675.2 L1268.6,1676 L1270.1,1681.5 L1271.6,1681 L1273.2,1679.6 L1274.9,1674.4 L1276.5,1673.9 L1278.2,1671.6 L1279.8,1669.4 L1281.5,1663.1 L1283.1,1662.7 L1284.7,1666.1 L1286.4,1663.8 L1288,1667.6 L1289.6,1666.2 L1291.2,1675.8 L1292.9,1665.8 L1294.5,1671.8 L1296,1675.6 L1297.6,1669.6 L1299.1,1678.6 L1300.6,1669.8 L1302.2,1676.7 L1303.7,1674.3 L1305.2,1678.4 L1306.8,1671.7 L1308.3,1676.4 L1309.8,1675.9 L1311.3,1678.9 L1312.9,1680.7 L1314.4,1676.4 L1315.9,1672.8 L1317.4,1678.3 L1319,1677.7 L1320.5,1680.7 L1322,1681 L1323.5,1678.5 L1325,1675.6 L1326.6,1677.3 L1328.1,1681.5 L1329.6,1677.7 L1331.1,1673.6 L1332.7,1675.8 L1334.2,1668.2 L1335.7,1671.8 L1337.3,1671.8 L1339,1675.5 L1340.6,1676.5 L1342.3,1677.6 L1343.9,1681.6 L1345.6,1689.5 L1347.2,1685.6 L1348.7,1684.7 L1350.2,1685.4 L1351.8,1688.8 L1353.3,1674.5 L1354.8,1680.7 L1356.3,1683.9 L1357.9,1675.4 L1359.4,1678.1 L1360.9,1678.7 L1362.4,1684 L1364,1681.1 L1365.5,1682.5 L1367,1689.7 L1368.6,1677.6 L1370.1,1688.5 L1371.6,1681.7 L1373.2,1688.2 L1374.7,1687.9 L1376.3,1689.9 L1377.9,1688.4 L1379.5,1687.1 L1381.1,1690.7 L1382.7,1689.4 L1384.3,1690.7 L1385.9,1691.2 L1387.5,1689.9 L1389.1,1693.7 L1390.7,1687.9 L1392.2,1687.3 L1393.8,1683.3 L1395.3,1684.3 L1396.8,1690.3 L1398.4,1687.5 L1399.9,1691.2 L1401.4,1693.5 L1403,1698.9 L1404.5,1694.7 L1406.1,1690.7 L1407.7,1696.2 L1409.3,1690.4 L1410.9,1697.6 L1412.5,1687.7 L1414.1,1699.8 L1415.7,1693.8 L1417.3,1701.9 L1418.9,1695.4 L1420.5,1694.7 L1422.1,1692.4 L1423.8,1694.7 L1425.4,1694.5 L1427,1698.3 L1428.6,1702.1 L1430.3,1699.5 L1431.9,1699.3 L1433.5,1698 L1435.2,1697.8 L1436.8,1704.1 L1438.5,1695 L1440.1,1700.1 L1441.8,1694.5 L1443.4,1694.5 L1445,1698.9 L1446.7,1691.2 L1448.3,1701.5 L1450,1701.3 L1451.6,1692.2 L1453.3,1691.5 L1454.9,1694.7 L1456.6,1694.9 L1458.2,1695 L1459.9,1694.3 L1461.6,1700.7 L1463.2,1705.8 L1464.9,1698.2 L1466.5,1701.5 L1468.2,1698.4 L1469.9,1700.4 L1471.5,1699.2 L1473.2,1701.6 L1474.8,1700.6 L1476.4,1700.8 L1478,1698.4 L1479.6,1699.6 L1481.2,1695.9 L1482.8,1698.7 L1484.4,1691.5 L1486,1697.9 L1487.6,1694.9 L1489.2,1694.7 L1490.8,1695.8 L1492.5,1693.4 L1494.1,1692.8 L1495.7,1692.7 L1497.3,1690.6 L1499,1691.3 L1500.6,1684.2 L1502.2,1687.8 L1503.8,1690.5 L1505.5,1684.8 L1507.1,1695.9 L1508.7,1687.9" fill="none" stroke="#5a4fc6" stroke-width="5.2" stroke-linejoin="miter" stroke-linecap="round" stroke-miterlimit="3"/>
<path d="M888.5,1690.7 L889.9,1682.5 L891.3,1674.6 L892.7,1667.5 L894.3,1668.7 L895.9,1673.1 L897.4,1671.8 L899,1673.8 L900.4,1677.7 L901.9,1693.3 L903.3,1701.3 L904.9,1696.7 L906.5,1693.1 L908,1690.6 L909.6,1686.5 L911.4,1675.3 L913.1,1666.6 L914.9,1650.5 L916.5,1685.6 L918.1,1716.1 L919.5,1705.9 L920.9,1692.4 L922.3,1684.4 L924,1677.5 L925.7,1678.5 L927.4,1678.8 L929.1,1671 L930.8,1667.5 L932.4,1680.9 L934,1696.9 L935.5,1703.7 L937.1,1722.5 L938.5,1704.5 L939.9,1690.3 L941.3,1671.7 L942.9,1680.6 L944.5,1682.5 L946.1,1690.4 L947.7,1694.9 L949.3,1689.4 L950.9,1685 L952.4,1672 L954,1669.6 L955.6,1678.5 L957.2,1678 L958.8,1681.1 L960.4,1697.1 L962,1687 L963.5,1678 L965.1,1676.3 L966.7,1665.3 L968.3,1675.6 L969.9,1676.9 L971.5,1692.1 L973.1,1697.1 L974.7,1685.1 L976.2,1679.8 L977.8,1670.6 L979.4,1663.2 L981,1666.3 L982.6,1671.4 L984.2,1673.4 L985.8,1673.8 L987.4,1670.8 L989,1667.6 L990.5,1662.8 L992.1,1656.9 L993.7,1651.5 L995.2,1648 L996.8,1645.7 L998.4,1644.2 L1000,1649.1 L1001.6,1649.7 L1003.2,1661.9 L1004.8,1656.9 L1006.2,1637.1 L1007.6,1619.2 L1009,1606.1 L1010.6,1609.9 L1012.2,1613.2 L1013.8,1611.1 L1015.4,1610.4 L1016.8,1606.3 L1018.2,1601.3 L1019.6,1589.2 L1021.2,1576.7 L1022.8,1559.9 L1024.3,1550.9 L1025.9,1540.6 L1027.3,1555.2 L1028.8,1558.1 L1030.2,1574.4 L1031.6,1548.4 L1033,1523.1 L1034.4,1496.1 L1035.8,1481.6 L1037.2,1471.9 L1038.6,1456 L1040,1455.9 L1041.5,1459.9 L1042.9,1449.6 L1044.3,1465.9 L1045.7,1475.7 L1047.1,1491.9 L1048.5,1470.2 L1049.9,1449.5 L1051.3,1432.7 L1052.7,1436 L1054.1,1430.7 L1055.5,1432.7 L1056.9,1448.7 L1058.4,1467.7 L1059.8,1481.3 L1061.2,1474.5 L1062.6,1471.8 L1064,1468.6 L1065.6,1456.9 L1067.2,1454.3 L1068.8,1450.8 L1070.4,1447.5 L1071.8,1465.9 L1073.2,1485.5 L1074.6,1498.3 L1076,1504.6 L1077.4,1511.9 L1078.8,1517.3 L1080.2,1513.7 L1081.6,1512.6 L1083,1504.6 L1084.4,1523.2 L1085.9,1536.6 L1087.3,1551.1 L1088.7,1541.9 L1090.1,1543 L1091.5,1534.2 L1093.1,1539.8 L1094.7,1546.9 L1096.2,1546.8 L1097.8,1551.1 L1099.4,1568.5 L1101,1571 L1102.6,1588.4 L1104.2,1593.4 L1105.6,1584.7 L1107,1573.3 L1108.4,1566 L1110,1565.7 L1111.6,1572.8 L1113.2,1582 L1114.8,1580.7 L1116.4,1594.1 L1117.9,1604.3 L1119.5,1604.1 L1121.1,1623 L1122.5,1624.1 L1123.9,1622.1 L1125.3,1618.8 L1127,1609.7 L1128.7,1602.2 L1130.4,1597.3 L1132.1,1596.1 L1133.8,1582.9 L1135.4,1592.9 L1136.9,1608.9 L1138.5,1628.8 L1140.1,1637.8 L1141.5,1625 L1143,1614 L1144.4,1604 L1146,1601.7 L1147.6,1594.4 L1149.1,1596.8 L1150.7,1593.4 L1152.1,1596.9 L1153.6,1612 L1155,1616.7 L1156.6,1612.5 L1158.2,1616.2 L1159.7,1605 L1161.3,1599.8 L1162.7,1599.6 L1164.1,1585.4 L1165.5,1585 L1167.1,1570.8 L1168.7,1558.6 L1170.3,1549.9 L1171.9,1530 L1173.3,1514.3 L1174.7,1513.7 L1176.1,1500.4 L1177.5,1494.7 L1178.9,1490.2 L1180.3,1477.1 L1181.8,1459 L1183.4,1436 L1184.9,1432.2 L1186.3,1426.1 L1187.8,1419.6 L1189.2,1419.9 L1190.7,1399.2 L1192.2,1376.5 L1193.7,1355.8 L1195.5,1358.3 L1197.2,1346.6 L1198.9,1362.8 L1200.6,1383.3 L1202.1,1377.6 L1203.7,1364.1 L1205.2,1362.7 L1207.5,1335.2 L1209.2,1351 L1210.9,1369.6 L1212.3,1372.8 L1213.8,1377 L1215.2,1381.5 L1216.6,1378.7 L1218.1,1386.2 L1219.7,1390.1 L1221.2,1401.6 L1222.7,1420.8 L1224.3,1438.5 L1225.8,1454.3 L1227.3,1448.4 L1228.9,1436.6 L1230.4,1431.4 L1232.1,1446.2 L1233.8,1453.5 L1235.6,1466.5 L1237.3,1474.9 L1238.8,1484.7 L1240.3,1487.7 L1241.8,1492 L1243.4,1503.8 L1244.9,1502.5 L1246.4,1507 L1248.1,1512.3 L1249.8,1520 L1251.6,1531.1 L1253.3,1532.2 L1255,1537.2 L1256.8,1543.2 L1258.5,1550.1 L1260.2,1550.5 L1261.9,1553.9 L1263.6,1554.8 L1265.3,1567 L1267,1571.1 L1268.5,1578 L1270.1,1581.2 L1271.6,1589.4 L1273.1,1594.7 L1274.7,1596.1 L1276.2,1596.3 L1277.7,1598.2 L1279.3,1608.8 L1280.8,1612.3 L1282.3,1621.5 L1283.9,1627 L1285.4,1642.1 L1287.1,1636.8 L1288.8,1628.2 L1290.5,1618.9 L1292.2,1614.6 L1293.7,1618.3 L1295.3,1620.1 L1296.8,1618.3 L1298.3,1623.7 L1299.9,1627.7 L1301.4,1626.1 L1302.9,1622.1 L1304.5,1624.4 L1306,1621.5 L1307.5,1627.9 L1309.1,1611.9 L1310.6,1616.9 L1312.1,1633.8 L1313.6,1644.8 L1315.1,1660.4 L1316.7,1655.1 L1318.4,1657.3 L1320,1645.7 L1321.7,1648.6 L1323.3,1634.4 L1325,1632.2 L1326.6,1626.1 L1328.1,1628.9 L1329.6,1632.8 L1331.2,1640 L1332.7,1643.4 L1334.2,1649.6 L1335.7,1653.5 L1337.2,1644.2 L1338.8,1656.7 L1340.3,1647.2 L1341.8,1652 L1343.4,1640.5 L1344.9,1642.1 L1346.4,1637.8 L1348,1642.5 L1349.5,1626.1 L1351,1629.9 L1352.6,1634.6 L1354.1,1644.8 L1355.6,1655.2 L1357.2,1662.9 L1358.7,1667.3 L1360.2,1667.6 L1361.7,1658 L1363.2,1649.1 L1364.8,1649 L1366.3,1650.6 L1367.8,1642.1 L1369.5,1658 L1371.2,1663.9 L1373,1684.9 L1374.7,1699.3 L1376.2,1687.4 L1377.8,1673.2 L1379.3,1649 L1381,1663.5 L1382.7,1675.2 L1384.4,1682.4 L1386.1,1699.3 L1387.6,1689.1 L1389.2,1685 L1390.7,1679.3 L1392.2,1672.3 L1393.8,1661.4 L1395.3,1655.8 L1396.8,1656 L1398.4,1661.5 L1399.9,1664.4 L1401.4,1674.9 L1403,1668.7 L1404.5,1681 L1406,1678.3 L1407.5,1679.5 L1409,1681.7 L1410.6,1675.1 L1412.1,1676.8 L1413.6,1671.8 L1415.1,1673.1 L1416.7,1674.6 L1418.2,1677.5 L1419.7,1687.9 L1421.3,1688.7 L1422.8,1687.9 L1424.3,1692.3 L1425.8,1704.9 L1427.3,1695.8 L1428.9,1700.7 L1430.4,1702.3 L1431.9,1703.9 L1433.6,1695.1 L1435.3,1696 L1437.1,1685.1 L1438.8,1671.8 L1440.5,1664.1 L1442.2,1664.7 L1444,1664.7 L1445.7,1660.4 L1447.4,1672.9 L1449.2,1675.1 L1450.9,1681.7 L1452.6,1699.3 L1454.2,1686.7 L1455.9,1687.3 L1457.5,1681.3 L1459.1,1677 L1460.7,1667.2 L1462.4,1659.7 L1464,1658.1 L1465.5,1657.1 L1467.1,1671.5 L1468.6,1677.7 L1470.1,1686 L1471.7,1691.4 L1473.2,1694.7 L1474.8,1690.8 L1476.5,1692.9 L1478.1,1684.4 L1479.7,1679.3 L1481.3,1676.5 L1483,1673 L1484.6,1671.8 L1486.1,1668 L1487.7,1680 L1489.2,1684.1 L1490.7,1685.8 L1492.3,1688.4 L1493.8,1694.7 L1495.3,1694.5 L1496.8,1697.7 L1498.3,1690.3 L1499.9,1686.9 L1501.4,1685 L1502.9,1685.6 L1504.4,1686.5 L1505.8,1683.4 L1507.2,1688.5 L1508.7,1690.1" fill="none" stroke="#52f32a" stroke-width="5.4" stroke-linejoin="miter" stroke-linecap="round" stroke-miterlimit="3"/>
<rect x="887.2" y="1294.6" width="621.8" height="478.4" fill="none" stroke="#000" stroke-width="2.4"/>
<line x1="875.7" y1="1746.4" x2="887.2" y2="1746.4" stroke="#000" stroke-width="2.4" stroke-linecap="butt"/>
<line x1="875.7" y1="1693.2" x2="887.2" y2="1693.2" stroke="#000" stroke-width="2.4" stroke-linecap="butt"/>
<line x1="875.7" y1="1640" x2="887.2" y2="1640" stroke="#000" stroke-width="2.4" stroke-linecap="butt"/>
<line x1="875.7" y1="1586.8" x2="887.2" y2="1586.8" stroke="#000" stroke-width="2.4" stroke-linecap="butt"/>
<line x1="875.7" y1="1533.6" x2="887.2" y2="1533.6" stroke="#000" stroke-width="2.4" stroke-linecap="butt"/>
<line x1="875.7" y1="1480.4" x2="887.2" y2="1480.4" stroke="#000" stroke-width="2.4" stroke-linecap="butt"/>
<line x1="875.7" y1="1427.2" x2="887.2" y2="1427.2" stroke="#000" stroke-width="2.4" stroke-linecap="butt"/>
<line x1="875.7" y1="1374" x2="887.2" y2="1374" stroke="#000" stroke-width="2.4" stroke-linecap="butt"/>
<line x1="875.7" y1="1320.8" x2="887.2" y2="1320.8" stroke="#000" stroke-width="2.4" stroke-linecap="butt"/>
<line x1="881.7" y1="1719.8" x2="887.2" y2="1719.8" stroke="#000" stroke-width="2.4" stroke-linecap="butt"/>
<line x1="881.7" y1="1666.6" x2="887.2" y2="1666.6" stroke="#000" stroke-width="2.4" stroke-linecap="butt"/>
<line x1="881.7" y1="1613.4" x2="887.2" y2="1613.4" stroke="#000" stroke-width="2.4" stroke-linecap="butt"/>
<line x1="881.7" y1="1560.2" x2="887.2" y2="1560.2" stroke="#000" stroke-width="2.4" stroke-linecap="butt"/>
<line x1="881.7" y1="1507" x2="887.2" y2="1507" stroke="#000" stroke-width="2.4" stroke-linecap="butt"/>
<line x1="881.7" y1="1453.8" x2="887.2" y2="1453.8" stroke="#000" stroke-width="2.4" stroke-linecap="butt"/>
<line x1="881.7" y1="1400.6" x2="887.2" y2="1400.6" stroke="#000" stroke-width="2.4" stroke-linecap="butt"/>
<line x1="881.7" y1="1347.4" x2="887.2" y2="1347.4" stroke="#000" stroke-width="2.4" stroke-linecap="butt"/>
<line x1="881.7" y1="1294.2" x2="887.2" y2="1294.2" stroke="#000" stroke-width="2.4" stroke-linecap="butt"/>
<line x1="881.7" y1="1773" x2="887.2" y2="1773" stroke="#000" stroke-width="2.4" stroke-linecap="butt"/>
<line x1="980.6" y1="1773" x2="980.6" y2="1785.5" stroke="#000" stroke-width="2.4" stroke-linecap="butt"/>
<line x1="1136.7" y1="1773" x2="1136.7" y2="1785.5" stroke="#000" stroke-width="2.4" stroke-linecap="butt"/>
<line x1="1292.8" y1="1773" x2="1292.8" y2="1785.5" stroke="#000" stroke-width="2.4" stroke-linecap="butt"/>
<line x1="1448.9" y1="1773" x2="1448.9" y2="1785.5" stroke="#000" stroke-width="2.4" stroke-linecap="butt"/>
<line x1="902.6" y1="1773" x2="902.6" y2="1779.5" stroke="#000" stroke-width="2.4" stroke-linecap="butt"/>
<line x1="1058.7" y1="1773" x2="1058.7" y2="1779.5" stroke="#000" stroke-width="2.4" stroke-linecap="butt"/>
<line x1="1214.8" y1="1773" x2="1214.8" y2="1779.5" stroke="#000" stroke-width="2.4" stroke-linecap="butt"/>
<line x1="1370.8" y1="1773" x2="1370.8" y2="1779.5" stroke="#000" stroke-width="2.4" stroke-linecap="butt"/>
<text transform="translate(954.25,1822.20) scale(0.9225,1)" font-size="33.5" fill="#000" font-weight="normal" font-style="normal">150</text>
<text transform="translate(1110.39,1822.20) scale(0.9225,1)" font-size="33.5" fill="#000" font-weight="normal" font-style="normal">145</text>
<text transform="translate(1266.45,1822.20) scale(0.9225,1)" font-size="33.5" fill="#000" font-weight="normal" font-style="normal">140</text>
<text transform="translate(1422.59,1822.20) scale(0.9225,1)" font-size="33.5" fill="#000" font-weight="normal" font-style="normal">135</text>
<text transform="translate(1057.49,1867.50) scale(0.9960,1)" font-size="32" fill="#000" font-weight="normal" font-style="normal" >Binding energy (eV)</text>
<text transform="translate(853.90,1644.03) rotate(-90) scale(0.9993,1)" font-size="35" fill="#000" font-weight="normal">Intensity (a.u.)</text>
<text transform="translate(808.26,1288.50) scale(1.1486,1)" font-size="43" fill="#000" font-weight="bold" font-style="normal" >f</text>
<line x1="899.6" y1="1320.3" x2="974" y2="1320.3" stroke="#5a4fc6" stroke-width="6" stroke-linecap="round"/>
<line x1="899.6" y1="1363" x2="974" y2="1363" stroke="#52f32a" stroke-width="6.2" stroke-linecap="round"/>
<text transform="translate(981.20,1330.50) scale(0.9870,1)" font-size="32" fill="#000" font-weight="normal" font-style="normal" >Control</text>
<text transform="translate(982.10,1373.60) scale(0.9713,1)" font-size="32" fill="#000" font-weight="normal" font-style="normal" >Target</text>
<text transform="translate(1408.67,1346.60) scale(1.0008,1)" font-size="32" fill="#000" font-weight="normal" font-style="normal" >Pb 4f</text>
<text transform="translate(1100.87,1751.20) scale(1.0011,1)" font-size="32" fill="#000" font-weight="normal" font-style="normal" >DMSO-washed</text>
</svg></body></html>
